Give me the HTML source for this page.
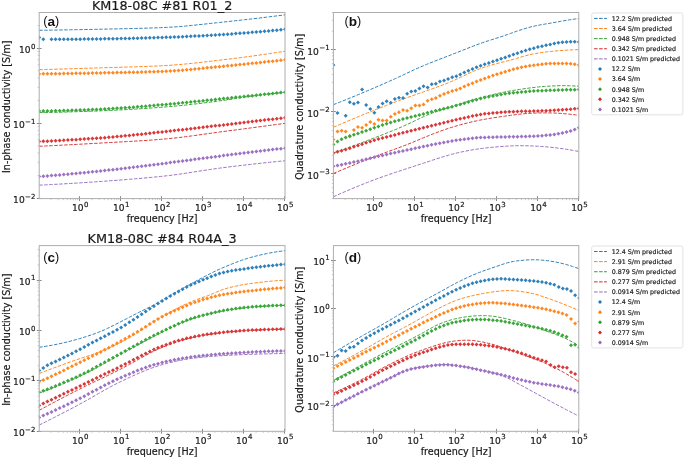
<!DOCTYPE html>
<html lang="en"><head><meta charset="utf-8"><title>Complex conductivity spectra</title>
<style>html,body{margin:0;padding:0;background:#fff;}body{width:685px;height:457px;overflow:hidden;}svg{display:block;}svg text{font-family:"DejaVu Sans","Liberation Sans",sans-serif;fill:#1a1a1a;stroke:#1a1a1a;stroke-width:0.2px;}svg text.tag{font-family:"Liberation Sans",Arial,sans-serif;fill:#111;stroke:none;}svg text.lg{stroke:#1a1a1a;stroke-width:0.18px;}svg{filter:blur(0.3px);}</style></head><body>
<svg width="685" height="457" viewBox="0 0 685 457">
<rect width="685" height="457" fill="#fff"/>
<clipPath id="clipa"><rect x="39.2" y="12.5" width="245.8" height="186.1"/></clipPath>
<g clip-path="url(#clipa)" opacity="0.92">
<path d="M39.2 30.29 L42.31 30.25 L45.42 30.21 L48.53 30.17 L51.65 30.12 L54.76 30.07 L57.87 30.02 L60.98 29.97 L64.09 29.92 L67.2 29.87 L70.31 29.81 L73.43 29.76 L76.54 29.7 L79.65 29.64 L82.76 29.58 L85.87 29.52 L88.98 29.46 L92.09 29.4 L95.21 29.33 L98.32 29.27 L101.43 29.2 L104.54 29.14 L107.65 29.07 L110.76 29.01 L113.87 28.94 L116.98 28.88 L120.1 28.81 L123.21 28.74 L126.32 28.68 L129.43 28.6 L132.54 28.53 L135.65 28.45 L138.76 28.37 L141.88 28.29 L144.99 28.2 L148.1 28.1 L151.21 28 L154.32 27.9 L157.43 27.79 L160.54 27.67 L163.66 27.54 L166.77 27.39 L169.88 27.23 L172.99 27.04 L176.1 26.82 L179.21 26.59 L182.32 26.33 L185.44 26.06 L188.55 25.76 L191.66 25.46 L194.77 25.14 L197.88 24.81 L200.99 24.48 L204.1 24.14 L207.22 23.8 L210.33 23.45 L213.44 23.11 L216.55 22.77 L219.66 22.44 L222.77 22.11 L225.88 21.78 L228.99 21.45 L232.11 21.11 L235.22 20.78 L238.33 20.43 L241.44 20.09 L244.55 19.74 L247.66 19.39 L250.77 19.03 L253.89 18.67 L257 18.31 L260.11 17.94 L263.22 17.56 L266.33 17.19 L269.44 16.81 L272.55 16.43 L275.67 16.04 L278.78 15.65 L281.89 15.26 L285 14.86" fill="none" stroke="#1f77b4" stroke-width="1.0" stroke-dasharray="3.5 1.5"/>
<path d="M39.2 69.69 L42.31 69.6 L45.42 69.51 L48.53 69.42 L51.65 69.33 L54.76 69.24 L57.87 69.15 L60.98 69.06 L64.09 68.97 L67.2 68.87 L70.31 68.78 L73.43 68.69 L76.54 68.59 L79.65 68.49 L82.76 68.4 L85.87 68.3 L88.98 68.2 L92.09 68.1 L95.21 68.01 L98.32 67.91 L101.43 67.81 L104.54 67.71 L107.65 67.61 L110.76 67.52 L113.87 67.43 L116.98 67.34 L120.1 67.25 L123.21 67.15 L126.32 67.06 L129.43 66.97 L132.54 66.88 L135.65 66.78 L138.76 66.68 L141.88 66.57 L144.99 66.46 L148.1 66.34 L151.21 66.22 L154.32 66.09 L157.43 65.95 L160.54 65.81 L163.66 65.65 L166.77 65.48 L169.88 65.28 L172.99 65.07 L176.1 64.84 L179.21 64.58 L182.32 64.31 L185.44 64.01 L188.55 63.71 L191.66 63.39 L194.77 63.05 L197.88 62.71 L200.99 62.36 L204.1 62 L207.22 61.64 L210.33 61.27 L213.44 60.9 L216.55 60.54 L219.66 60.17 L222.77 59.8 L225.88 59.43 L228.99 59.06 L232.11 58.68 L235.22 58.29 L238.33 57.9 L241.44 57.5 L244.55 57.1 L247.66 56.68 L250.77 56.26 L253.89 55.84 L257 55.41 L260.11 54.97 L263.22 54.52 L266.33 54.07 L269.44 53.61 L272.55 53.15 L275.67 52.68 L278.78 52.21 L281.89 51.73 L285 51.25" fill="none" stroke="#ff7f0e" stroke-width="1.0" stroke-dasharray="3.5 1.5"/>
<path d="M39.2 112.59 L42.31 112.54 L45.42 112.49 L48.53 112.44 L51.65 112.37 L54.76 112.31 L57.87 112.23 L60.98 112.15 L64.09 112.07 L67.2 111.99 L70.31 111.89 L73.43 111.8 L76.54 111.7 L79.65 111.6 L82.76 111.49 L85.87 111.38 L88.98 111.27 L92.09 111.16 L95.21 111.04 L98.32 110.92 L101.43 110.8 L104.54 110.67 L107.65 110.54 L110.76 110.4 L113.87 110.26 L116.98 110.11 L120.1 109.95 L123.21 109.79 L126.32 109.61 L129.43 109.44 L132.54 109.25 L135.65 109.06 L138.76 108.87 L141.88 108.67 L144.99 108.46 L148.1 108.25 L151.21 108.03 L154.32 107.8 L157.43 107.57 L160.54 107.34 L163.66 107.09 L166.77 106.84 L169.88 106.58 L172.99 106.31 L176.1 106.02 L179.21 105.72 L182.32 105.41 L185.44 105.08 L188.55 104.74 L191.66 104.4 L194.77 104.04 L197.88 103.68 L200.99 103.3 L204.1 102.92 L207.22 102.53 L210.33 102.14 L213.44 101.73 L216.55 101.32 L219.66 100.91 L222.77 100.47 L225.88 100.02 L228.99 99.54 L232.11 99.04 L235.22 98.54 L238.33 98.04 L241.44 97.56 L244.55 97.1 L247.66 96.66 L250.77 96.24 L253.89 95.84 L257 95.44 L260.11 95.05 L263.22 94.68 L266.33 94.31 L269.44 93.96 L272.55 93.62 L275.67 93.29 L278.78 92.97 L281.89 92.67 L285 92.38" fill="none" stroke="#2ca02c" stroke-width="1.0" stroke-dasharray="3.5 1.5"/>
<path d="M39.2 146.28 L42.31 146.14 L45.42 145.98 L48.53 145.83 L51.65 145.68 L54.76 145.52 L57.87 145.37 L60.98 145.21 L64.09 145.05 L67.2 144.89 L70.31 144.72 L73.43 144.56 L76.54 144.39 L79.65 144.22 L82.76 144.05 L85.87 143.88 L88.98 143.71 L92.09 143.54 L95.21 143.36 L98.32 143.19 L101.43 143.01 L104.54 142.83 L107.65 142.66 L110.76 142.49 L113.87 142.31 L116.98 142.14 L120.1 141.97 L123.21 141.79 L126.32 141.62 L129.43 141.44 L132.54 141.26 L135.65 141.07 L138.76 140.88 L141.88 140.69 L144.99 140.48 L148.1 140.27 L151.21 140.06 L154.32 139.83 L157.43 139.6 L160.54 139.35 L163.66 139.09 L166.77 138.82 L169.88 138.52 L172.99 138.21 L176.1 137.87 L179.21 137.51 L182.32 137.14 L185.44 136.74 L188.55 136.34 L191.66 135.92 L194.77 135.5 L197.88 135.06 L200.99 134.63 L204.1 134.19 L207.22 133.75 L210.33 133.31 L213.44 132.88 L216.55 132.45 L219.66 132.03 L222.77 131.61 L225.88 131.2 L228.99 130.79 L232.11 130.38 L235.22 129.98 L238.33 129.57 L241.44 129.16 L244.55 128.75 L247.66 128.34 L250.77 127.93 L253.89 127.52 L257 127.1 L260.11 126.69 L263.22 126.28 L266.33 125.86 L269.44 125.45 L272.55 125.03 L275.67 124.61 L278.78 124.2 L281.89 123.78 L285 123.36" fill="none" stroke="#d62728" stroke-width="1.0" stroke-dasharray="3.5 1.5"/>
<path d="M39.2 185.18 L42.31 185.03 L45.42 184.87 L48.53 184.71 L51.65 184.54 L54.76 184.37 L57.87 184.2 L60.98 184.02 L64.09 183.84 L67.2 183.66 L70.31 183.47 L73.43 183.28 L76.54 183.08 L79.65 182.88 L82.76 182.68 L85.87 182.48 L88.98 182.27 L92.09 182.06 L95.21 181.84 L98.32 181.63 L101.43 181.41 L104.54 181.19 L107.65 180.96 L110.76 180.74 L113.87 180.51 L116.98 180.27 L120.1 180.04 L123.21 179.8 L126.32 179.55 L129.43 179.3 L132.54 179.05 L135.65 178.78 L138.76 178.52 L141.88 178.25 L144.99 177.97 L148.1 177.68 L151.21 177.39 L154.32 177.08 L157.43 176.77 L160.54 176.46 L163.66 176.12 L166.77 175.78 L169.88 175.41 L172.99 175.02 L176.1 174.61 L179.21 174.18 L182.32 173.74 L185.44 173.28 L188.55 172.81 L191.66 172.33 L194.77 171.84 L197.88 171.36 L200.99 170.87 L204.1 170.39 L207.22 169.91 L210.33 169.45 L213.44 168.99 L216.55 168.55 L219.66 168.13 L222.77 167.72 L225.88 167.32 L228.99 166.93 L232.11 166.55 L235.22 166.18 L238.33 165.8 L241.44 165.43 L244.55 165.07 L247.66 164.71 L250.77 164.35 L253.89 164 L257 163.66 L260.11 163.32 L263.22 162.98 L266.33 162.65 L269.44 162.32 L272.55 162 L275.67 161.69 L278.78 161.38 L281.89 161.08 L285 160.77" fill="none" stroke="#9467bd" stroke-width="1.0" stroke-dasharray="3.5 1.5"/>
<path fill="#1f77b4" d="M51.49 37.3l2 2l-2 2l-2 -2zM55.59 37.29l2 2l-2 2l-2 -2zM59.68 37.27l2 2l-2 2l-2 -2zM63.78 37.25l2 2l-2 2l-2 -2zM67.88 37.23l2 2l-2 2l-2 -2zM71.97 37.2l2 2l-2 2l-2 -2zM76.07 37.17l2 2l-2 2l-2 -2zM80.17 37.13l2 2l-2 2l-2 -2zM84.26 37.09l2 2l-2 2l-2 -2zM88.36 37.05l2 2l-2 2l-2 -2zM92.46 37l2 2l-2 2l-2 -2zM96.55 36.96l2 2l-2 2l-2 -2zM100.65 36.91l2 2l-2 2l-2 -2zM104.75 36.86l2 2l-2 2l-2 -2zM108.84 36.8l2 2l-2 2l-2 -2zM112.94 36.73l2 2l-2 2l-2 -2zM117.04 36.66l2 2l-2 2l-2 -2zM121.13 36.58l2 2l-2 2l-2 -2zM125.23 36.5l2 2l-2 2l-2 -2zM129.33 36.4l2 2l-2 2l-2 -2zM133.42 36.31l2 2l-2 2l-2 -2zM137.52 36.2l2 2l-2 2l-2 -2zM141.62 36.1l2 2l-2 2l-2 -2zM145.71 35.98l2 2l-2 2l-2 -2zM149.81 35.87l2 2l-2 2l-2 -2zM153.91 35.74l2 2l-2 2l-2 -2zM158 35.62l2 2l-2 2l-2 -2zM162.1 35.49l2 2l-2 2l-2 -2zM166.2 35.35l2 2l-2 2l-2 -2zM170.29 35.21l2 2l-2 2l-2 -2zM174.39 35.05l2 2l-2 2l-2 -2zM178.49 34.89l2 2l-2 2l-2 -2zM182.58 34.71l2 2l-2 2l-2 -2zM186.68 34.52l2 2l-2 2l-2 -2zM190.78 34.32l2 2l-2 2l-2 -2zM194.87 34.11l2 2l-2 2l-2 -2zM198.97 33.89l2 2l-2 2l-2 -2zM203.07 33.67l2 2l-2 2l-2 -2zM207.16 33.43l2 2l-2 2l-2 -2zM211.26 33.2l2 2l-2 2l-2 -2zM215.36 32.95l2 2l-2 2l-2 -2zM219.45 32.7l2 2l-2 2l-2 -2zM223.55 32.45l2 2l-2 2l-2 -2zM227.65 32.18l2 2l-2 2l-2 -2zM231.74 31.9l2 2l-2 2l-2 -2zM235.84 31.62l2 2l-2 2l-2 -2zM239.94 31.32l2 2l-2 2l-2 -2zM244.03 31.01l2 2l-2 2l-2 -2zM248.13 30.69l2 2l-2 2l-2 -2zM252.23 30.35l2 2l-2 2l-2 -2zM256.32 30.01l2 2l-2 2l-2 -2zM260.42 29.66l2 2l-2 2l-2 -2zM264.52 29.3l2 2l-2 2l-2 -2zM268.61 28.93l2 2l-2 2l-2 -2zM272.71 28.55l2 2l-2 2l-2 -2zM276.81 28.16l2 2l-2 2l-2 -2zM280.9 27.77l2 2l-2 2l-2 -2zM285 27.37l2 2l-2 2l-2 -2zM39.2 35.4l2 2l-2 2l-2 -2zM43.3 37.3l2 2l-2 2l-2 -2z"/>
<path fill="#ff7f0e" d="M39.2 71.9l2 2l-2 2l-2 -2zM43.3 71.85l2 2l-2 2l-2 -2zM47.39 71.8l2 2l-2 2l-2 -2zM51.49 71.74l2 2l-2 2l-2 -2zM55.59 71.69l2 2l-2 2l-2 -2zM59.68 71.63l2 2l-2 2l-2 -2zM63.78 71.56l2 2l-2 2l-2 -2zM67.88 71.5l2 2l-2 2l-2 -2zM71.97 71.43l2 2l-2 2l-2 -2zM76.07 71.37l2 2l-2 2l-2 -2zM80.17 71.3l2 2l-2 2l-2 -2zM84.26 71.22l2 2l-2 2l-2 -2zM88.36 71.15l2 2l-2 2l-2 -2zM92.46 71.07l2 2l-2 2l-2 -2zM96.55 71l2 2l-2 2l-2 -2zM100.65 70.92l2 2l-2 2l-2 -2zM104.75 70.84l2 2l-2 2l-2 -2zM108.84 70.76l2 2l-2 2l-2 -2zM112.94 70.68l2 2l-2 2l-2 -2zM117.04 70.6l2 2l-2 2l-2 -2zM121.13 70.52l2 2l-2 2l-2 -2zM125.23 70.43l2 2l-2 2l-2 -2zM129.33 70.34l2 2l-2 2l-2 -2zM133.42 70.25l2 2l-2 2l-2 -2zM137.52 70.15l2 2l-2 2l-2 -2zM141.62 70.05l2 2l-2 2l-2 -2zM145.71 69.94l2 2l-2 2l-2 -2zM149.81 69.82l2 2l-2 2l-2 -2zM153.91 69.69l2 2l-2 2l-2 -2zM158 69.55l2 2l-2 2l-2 -2zM162.1 69.4l2 2l-2 2l-2 -2zM166.2 69.22l2 2l-2 2l-2 -2zM170.29 69.02l2 2l-2 2l-2 -2zM174.39 68.78l2 2l-2 2l-2 -2zM178.49 68.5l2 2l-2 2l-2 -2zM182.58 68.19l2 2l-2 2l-2 -2zM186.68 67.85l2 2l-2 2l-2 -2zM190.78 67.48l2 2l-2 2l-2 -2zM194.87 67.09l2 2l-2 2l-2 -2zM198.97 66.69l2 2l-2 2l-2 -2zM203.07 66.28l2 2l-2 2l-2 -2zM207.16 65.87l2 2l-2 2l-2 -2zM211.26 65.45l2 2l-2 2l-2 -2zM215.36 65.04l2 2l-2 2l-2 -2zM219.45 64.63l2 2l-2 2l-2 -2zM223.55 64.23l2 2l-2 2l-2 -2zM227.65 63.83l2 2l-2 2l-2 -2zM231.74 63.43l2 2l-2 2l-2 -2zM235.84 63.03l2 2l-2 2l-2 -2zM239.94 62.62l2 2l-2 2l-2 -2zM244.03 62.21l2 2l-2 2l-2 -2zM248.13 61.79l2 2l-2 2l-2 -2zM252.23 61.36l2 2l-2 2l-2 -2zM256.32 60.93l2 2l-2 2l-2 -2zM260.42 60.49l2 2l-2 2l-2 -2zM264.52 60.05l2 2l-2 2l-2 -2zM268.61 59.6l2 2l-2 2l-2 -2zM272.71 59.15l2 2l-2 2l-2 -2zM276.81 58.69l2 2l-2 2l-2 -2zM280.9 58.23l2 2l-2 2l-2 -2zM285 57.76l2 2l-2 2l-2 -2z"/>
<path fill="#2ca02c" d="M39.2 109.09l2 2l-2 2l-2 -2zM43.3 109.04l2 2l-2 2l-2 -2zM47.39 108.98l2 2l-2 2l-2 -2zM51.49 108.91l2 2l-2 2l-2 -2zM55.59 108.82l2 2l-2 2l-2 -2zM59.68 108.72l2 2l-2 2l-2 -2zM63.78 108.61l2 2l-2 2l-2 -2zM67.88 108.49l2 2l-2 2l-2 -2zM71.97 108.36l2 2l-2 2l-2 -2zM76.07 108.22l2 2l-2 2l-2 -2zM80.17 108.07l2 2l-2 2l-2 -2zM84.26 107.91l2 2l-2 2l-2 -2zM88.36 107.75l2 2l-2 2l-2 -2zM92.46 107.58l2 2l-2 2l-2 -2zM96.55 107.41l2 2l-2 2l-2 -2zM100.65 107.23l2 2l-2 2l-2 -2zM104.75 107.04l2 2l-2 2l-2 -2zM108.84 106.83l2 2l-2 2l-2 -2zM112.94 106.6l2 2l-2 2l-2 -2zM117.04 106.35l2 2l-2 2l-2 -2zM121.13 106.08l2 2l-2 2l-2 -2zM125.23 105.79l2 2l-2 2l-2 -2zM129.33 105.49l2 2l-2 2l-2 -2zM133.42 105.17l2 2l-2 2l-2 -2zM137.52 104.84l2 2l-2 2l-2 -2zM141.62 104.5l2 2l-2 2l-2 -2zM145.71 104.16l2 2l-2 2l-2 -2zM149.81 103.81l2 2l-2 2l-2 -2zM153.91 103.46l2 2l-2 2l-2 -2zM158 103.1l2 2l-2 2l-2 -2zM162.1 102.75l2 2l-2 2l-2 -2zM166.2 102.39l2 2l-2 2l-2 -2zM170.29 102.03l2 2l-2 2l-2 -2zM174.39 101.65l2 2l-2 2l-2 -2zM178.49 101.26l2 2l-2 2l-2 -2zM182.58 100.86l2 2l-2 2l-2 -2zM186.68 100.46l2 2l-2 2l-2 -2zM190.78 100.04l2 2l-2 2l-2 -2zM194.87 99.62l2 2l-2 2l-2 -2zM198.97 99.19l2 2l-2 2l-2 -2zM203.07 98.76l2 2l-2 2l-2 -2zM207.16 98.33l2 2l-2 2l-2 -2zM211.26 97.9l2 2l-2 2l-2 -2zM215.36 97.47l2 2l-2 2l-2 -2zM219.45 97.05l2 2l-2 2l-2 -2zM223.55 96.62l2 2l-2 2l-2 -2zM227.65 96.2l2 2l-2 2l-2 -2zM231.74 95.78l2 2l-2 2l-2 -2zM235.84 95.35l2 2l-2 2l-2 -2zM239.94 94.93l2 2l-2 2l-2 -2zM244.03 94.5l2 2l-2 2l-2 -2zM248.13 94.08l2 2l-2 2l-2 -2zM252.23 93.65l2 2l-2 2l-2 -2zM256.32 93.22l2 2l-2 2l-2 -2zM260.42 92.78l2 2l-2 2l-2 -2zM264.52 92.35l2 2l-2 2l-2 -2zM268.61 91.92l2 2l-2 2l-2 -2zM272.71 91.48l2 2l-2 2l-2 -2zM276.81 91.04l2 2l-2 2l-2 -2zM280.9 90.61l2 2l-2 2l-2 -2zM285 90.17l2 2l-2 2l-2 -2z"/>
<path fill="#d62728" d="M39.2 139.48l2 2l-2 2l-2 -2zM43.3 139.32l2 2l-2 2l-2 -2zM47.39 139.15l2 2l-2 2l-2 -2zM51.49 138.97l2 2l-2 2l-2 -2zM55.59 138.77l2 2l-2 2l-2 -2zM59.68 138.56l2 2l-2 2l-2 -2zM63.78 138.34l2 2l-2 2l-2 -2zM67.88 138.11l2 2l-2 2l-2 -2zM71.97 137.87l2 2l-2 2l-2 -2zM76.07 137.63l2 2l-2 2l-2 -2zM80.17 137.37l2 2l-2 2l-2 -2zM84.26 137.1l2 2l-2 2l-2 -2zM88.36 136.83l2 2l-2 2l-2 -2zM92.46 136.55l2 2l-2 2l-2 -2zM96.55 136.26l2 2l-2 2l-2 -2zM100.65 135.96l2 2l-2 2l-2 -2zM104.75 135.65l2 2l-2 2l-2 -2zM108.84 135.32l2 2l-2 2l-2 -2zM112.94 134.97l2 2l-2 2l-2 -2zM117.04 134.61l2 2l-2 2l-2 -2zM121.13 134.23l2 2l-2 2l-2 -2zM125.23 133.83l2 2l-2 2l-2 -2zM129.33 133.42l2 2l-2 2l-2 -2zM133.42 133l2 2l-2 2l-2 -2zM137.52 132.57l2 2l-2 2l-2 -2zM141.62 132.13l2 2l-2 2l-2 -2zM145.71 131.69l2 2l-2 2l-2 -2zM149.81 131.24l2 2l-2 2l-2 -2zM153.91 130.8l2 2l-2 2l-2 -2zM158 130.35l2 2l-2 2l-2 -2zM162.1 129.91l2 2l-2 2l-2 -2zM166.2 129.47l2 2l-2 2l-2 -2zM170.29 129.03l2 2l-2 2l-2 -2zM174.39 128.58l2 2l-2 2l-2 -2zM178.49 128.12l2 2l-2 2l-2 -2zM182.58 127.66l2 2l-2 2l-2 -2zM186.68 127.2l2 2l-2 2l-2 -2zM190.78 126.73l2 2l-2 2l-2 -2zM194.87 126.25l2 2l-2 2l-2 -2zM198.97 125.78l2 2l-2 2l-2 -2zM203.07 125.3l2 2l-2 2l-2 -2zM207.16 124.82l2 2l-2 2l-2 -2zM211.26 124.35l2 2l-2 2l-2 -2zM215.36 123.87l2 2l-2 2l-2 -2zM219.45 123.39l2 2l-2 2l-2 -2zM223.55 122.91l2 2l-2 2l-2 -2zM227.65 122.44l2 2l-2 2l-2 -2zM231.74 121.96l2 2l-2 2l-2 -2zM235.84 121.48l2 2l-2 2l-2 -2zM239.94 121l2 2l-2 2l-2 -2zM244.03 120.52l2 2l-2 2l-2 -2zM248.13 120.04l2 2l-2 2l-2 -2zM252.23 119.56l2 2l-2 2l-2 -2zM256.32 119.08l2 2l-2 2l-2 -2zM260.42 118.59l2 2l-2 2l-2 -2zM264.52 118.11l2 2l-2 2l-2 -2zM268.61 117.62l2 2l-2 2l-2 -2zM272.71 117.13l2 2l-2 2l-2 -2zM276.81 116.64l2 2l-2 2l-2 -2zM280.9 116.15l2 2l-2 2l-2 -2zM285 115.66l2 2l-2 2l-2 -2z"/>
<path fill="#9467bd" d="M39.2 174.57l2 2l-2 2l-2 -2zM43.3 174.25l2 2l-2 2l-2 -2zM47.39 173.93l2 2l-2 2l-2 -2zM51.49 173.59l2 2l-2 2l-2 -2zM55.59 173.25l2 2l-2 2l-2 -2zM59.68 172.9l2 2l-2 2l-2 -2zM63.78 172.54l2 2l-2 2l-2 -2zM67.88 172.17l2 2l-2 2l-2 -2zM71.97 171.8l2 2l-2 2l-2 -2zM76.07 171.42l2 2l-2 2l-2 -2zM80.17 171.03l2 2l-2 2l-2 -2zM84.26 170.63l2 2l-2 2l-2 -2zM88.36 170.23l2 2l-2 2l-2 -2zM92.46 169.83l2 2l-2 2l-2 -2zM96.55 169.41l2 2l-2 2l-2 -2zM100.65 168.99l2 2l-2 2l-2 -2zM104.75 168.56l2 2l-2 2l-2 -2zM108.84 168.12l2 2l-2 2l-2 -2zM112.94 167.67l2 2l-2 2l-2 -2zM117.04 167.2l2 2l-2 2l-2 -2zM121.13 166.73l2 2l-2 2l-2 -2zM125.23 166.25l2 2l-2 2l-2 -2zM129.33 165.75l2 2l-2 2l-2 -2zM133.42 165.26l2 2l-2 2l-2 -2zM137.52 164.75l2 2l-2 2l-2 -2zM141.62 164.24l2 2l-2 2l-2 -2zM145.71 163.73l2 2l-2 2l-2 -2zM149.81 163.21l2 2l-2 2l-2 -2zM153.91 162.7l2 2l-2 2l-2 -2zM158 162.18l2 2l-2 2l-2 -2zM162.1 161.66l2 2l-2 2l-2 -2zM166.2 161.15l2 2l-2 2l-2 -2zM170.29 160.62l2 2l-2 2l-2 -2zM174.39 160.09l2 2l-2 2l-2 -2zM178.49 159.56l2 2l-2 2l-2 -2zM182.58 159.02l2 2l-2 2l-2 -2zM186.68 158.47l2 2l-2 2l-2 -2zM190.78 157.92l2 2l-2 2l-2 -2zM194.87 157.37l2 2l-2 2l-2 -2zM198.97 156.83l2 2l-2 2l-2 -2zM203.07 156.28l2 2l-2 2l-2 -2zM207.16 155.73l2 2l-2 2l-2 -2zM211.26 155.19l2 2l-2 2l-2 -2zM215.36 154.66l2 2l-2 2l-2 -2zM219.45 154.13l2 2l-2 2l-2 -2zM223.55 153.61l2 2l-2 2l-2 -2zM227.65 153.09l2 2l-2 2l-2 -2zM231.74 152.58l2 2l-2 2l-2 -2zM235.84 152.07l2 2l-2 2l-2 -2zM239.94 151.56l2 2l-2 2l-2 -2zM244.03 151.06l2 2l-2 2l-2 -2zM248.13 150.56l2 2l-2 2l-2 -2zM252.23 150.06l2 2l-2 2l-2 -2zM256.32 149.56l2 2l-2 2l-2 -2zM260.42 149.07l2 2l-2 2l-2 -2zM264.52 148.58l2 2l-2 2l-2 -2zM268.61 148.09l2 2l-2 2l-2 -2zM272.71 147.6l2 2l-2 2l-2 -2zM276.81 147.12l2 2l-2 2l-2 -2zM280.9 146.64l2 2l-2 2l-2 -2zM285 146.17l2 2l-2 2l-2 -2z"/>
</g>
<path d="M50.93 198.4V200.2M58.15 198.4V200.2M63.28 198.4V200.2M67.25 198.4V200.2M70.5 198.4V200.2M73.25 198.4V200.2M75.62 198.4V200.2M77.72 198.4V200.2M91.95 198.4V200.2M99.17 198.4V200.2M104.3 198.4V200.2M108.27 198.4V200.2M111.52 198.4V200.2M114.27 198.4V200.2M116.64 198.4V200.2M118.74 198.4V200.2M132.97 198.4V200.2M140.19 198.4V200.2M145.32 198.4V200.2M149.29 198.4V200.2M152.54 198.4V200.2M155.29 198.4V200.2M157.66 198.4V200.2M159.76 198.4V200.2M173.99 198.4V200.2M181.21 198.4V200.2M186.34 198.4V200.2M190.31 198.4V200.2M193.56 198.4V200.2M196.31 198.4V200.2M198.68 198.4V200.2M200.78 198.4V200.2M215.01 198.4V200.2M222.23 198.4V200.2M227.36 198.4V200.2M231.33 198.4V200.2M234.58 198.4V200.2M237.33 198.4V200.2M239.7 198.4V200.2M241.8 198.4V200.2M256.03 198.4V200.2M263.25 198.4V200.2M268.38 198.4V200.2M272.35 198.4V200.2M275.6 198.4V200.2M278.35 198.4V200.2M280.72 198.4V200.2M282.82 198.4V200.2M37.6 175.52H39.4M37.6 162.32H39.4M37.6 152.95H39.4M37.6 145.68H39.4M37.6 139.74H39.4M37.6 134.72H39.4M37.6 130.37H39.4M37.6 126.53H39.4M37.6 100.52H39.4M37.6 87.32H39.4M37.6 77.95H39.4M37.6 70.68H39.4M37.6 64.74H39.4M37.6 59.72H39.4M37.6 55.37H39.4M37.6 51.53H39.4M37.6 25.52H39.4" stroke="#9a9a9a" stroke-width="0.5" fill="none"/>
<path d="M79.5 196.2V201M120.5 196.2V201M161.5 196.2V201M202.5 196.2V201M243.5 196.2V201M284.5 196.2V201M36.8 198.5H41.6M36.8 123.5H41.6M36.8 48.5H41.6" stroke="#6a6a6a" stroke-width="0.8" fill="none"/>
<rect x="39.2" y="12.5" width="245.8" height="186.1" fill="none" stroke="#adadad" stroke-width="1"/>
<text x="80.2" y="210.8" text-anchor="middle" font-size="9.1">10<tspan font-size="7" dy="-4.2" dx="0.4">0</tspan></text>
<text x="121.22" y="210.8" text-anchor="middle" font-size="9.1">10<tspan font-size="7" dy="-4.2" dx="0.4">1</tspan></text>
<text x="162.24" y="210.8" text-anchor="middle" font-size="9.1">10<tspan font-size="7" dy="-4.2" dx="0.4">2</tspan></text>
<text x="203.26" y="210.8" text-anchor="middle" font-size="9.1">10<tspan font-size="7" dy="-4.2" dx="0.4">3</tspan></text>
<text x="244.28" y="210.8" text-anchor="middle" font-size="9.1">10<tspan font-size="7" dy="-4.2" dx="0.4">4</tspan></text>
<text x="285.3" y="210.8" text-anchor="middle" font-size="9.1">10<tspan font-size="7" dy="-4.2" dx="0.4">5</tspan></text>
<text x="35.4" y="202.7" text-anchor="end" font-size="9.1">10<tspan font-size="7" dy="-4.2" dx="0.4">−2</tspan></text>
<text x="35.4" y="127.7" text-anchor="end" font-size="9.1">10<tspan font-size="7" dy="-4.2" dx="0.4">−1</tspan></text>
<text x="35.4" y="52.7" text-anchor="end" font-size="9.1">10<tspan font-size="7" dy="-4.2" dx="0.4">0</tspan></text>
<text x="162.1" y="222" text-anchor="middle" font-size="9.6">frequency [Hz]</text>
<text transform="translate(10.2 106.75) rotate(-90)" text-anchor="middle" font-size="9.6">In-phase conductivity [S/m]</text>
<text x="162.1" y="10" text-anchor="middle" font-size="12.8">KM18-08C #81 R01_2</text>
<text x="43.3" y="25.7" class="tag" font-size="13.6"><tspan font-size="12.6" dy="-0.4">(</tspan><tspan font-weight="bold" dy="0.4">a</tspan><tspan font-size="12.6" dy="-0.4">)</tspan></text>
<clipPath id="clipb"><rect x="333.4" y="12.5" width="245.4" height="186.1"/></clipPath>
<g clip-path="url(#clipb)" opacity="0.92">
<path d="M333.4 104.65 L336.51 103.44 L339.61 102.22 L342.72 100.98 L345.83 99.74 L348.93 98.48 L352.04 97.21 L355.14 95.94 L358.25 94.65 L361.36 93.35 L364.46 92.04 L367.57 90.73 L370.68 89.4 L373.78 88.07 L376.89 86.72 L379.99 85.38 L383.1 84.02 L386.21 82.65 L389.31 81.28 L392.42 79.9 L395.53 78.5 L398.63 77.08 L401.74 75.63 L404.85 74.16 L407.95 72.69 L411.06 71.22 L414.16 69.77 L417.27 68.36 L420.38 67 L423.48 65.67 L426.59 64.39 L429.7 63.13 L432.8 61.9 L435.91 60.68 L439.02 59.48 L442.12 58.28 L445.23 57.09 L448.33 55.89 L451.44 54.69 L454.55 53.48 L457.65 52.26 L460.76 51.02 L463.87 49.79 L466.97 48.56 L470.08 47.34 L473.18 46.14 L476.29 44.97 L479.4 43.82 L482.5 42.72 L485.61 41.66 L488.72 40.63 L491.82 39.64 L494.93 38.66 L498.04 37.68 L501.14 36.67 L504.25 35.63 L507.35 34.56 L510.46 33.46 L513.57 32.36 L516.67 31.26 L519.78 30.2 L522.89 29.19 L525.99 28.24 L529.1 27.37 L532.21 26.58 L535.31 25.89 L538.42 25.26 L541.52 24.69 L544.63 24.15 L547.74 23.63 L550.84 23.1 L553.95 22.55 L557.06 21.99 L560.16 21.42 L563.27 20.87 L566.37 20.33 L569.48 19.83 L572.59 19.36 L575.69 18.92 L578.8 18.49" fill="none" stroke="#1f77b4" stroke-width="1.0" stroke-dasharray="3.5 1.5"/>
<path d="M333.4 127.26 L336.51 125.92 L339.61 124.59 L342.72 123.26 L345.83 121.94 L348.93 120.62 L352.04 119.31 L355.14 118.02 L358.25 116.72 L361.36 115.44 L364.46 114.16 L367.57 112.89 L370.68 111.63 L373.78 110.38 L376.89 109.14 L379.99 107.9 L383.1 106.67 L386.21 105.45 L389.31 104.24 L392.42 103.04 L395.53 101.86 L398.63 100.7 L401.74 99.56 L404.85 98.43 L407.95 97.32 L411.06 96.22 L414.16 95.13 L417.27 94.05 L420.38 92.97 L423.48 91.88 L426.59 90.79 L429.7 89.7 L432.8 88.59 L435.91 87.46 L439.02 86.32 L442.12 85.15 L445.23 83.95 L448.33 82.72 L451.44 81.44 L454.55 80.1 L457.65 78.69 L460.76 77.24 L463.87 75.76 L466.97 74.27 L470.08 72.82 L473.18 71.43 L476.29 70.12 L479.4 68.91 L482.5 67.8 L485.61 66.77 L488.72 65.82 L491.82 64.92 L494.93 64.07 L498.04 63.25 L501.14 62.47 L504.25 61.7 L507.35 60.93 L510.46 60.12 L513.57 59.27 L516.67 58.36 L519.78 57.43 L522.89 56.52 L525.99 55.65 L529.1 54.86 L532.21 54.17 L535.31 53.57 L538.42 53.04 L541.52 52.57 L544.63 52.15 L547.74 51.77 L550.84 51.43 L553.95 51.13 L557.06 50.86 L560.16 50.6 L563.27 50.37 L566.37 50.16 L569.48 49.98 L572.59 49.82 L575.69 49.69 L578.8 49.58" fill="none" stroke="#ff7f0e" stroke-width="1.0" stroke-dasharray="3.5 1.5"/>
<path d="M333.4 153.06 L336.51 151.96 L339.61 150.85 L342.72 149.73 L345.83 148.61 L348.93 147.47 L352.04 146.33 L355.14 145.18 L358.25 144.02 L361.36 142.85 L364.46 141.68 L367.57 140.49 L370.68 139.31 L373.78 138.11 L376.89 136.91 L379.99 135.7 L383.1 134.49 L386.21 133.26 L389.31 132.02 L392.42 130.76 L395.53 129.49 L398.63 128.19 L401.74 126.86 L404.85 125.5 L407.95 124.09 L411.06 122.64 L414.16 121.15 L417.27 119.65 L420.38 118.17 L423.48 116.73 L426.59 115.35 L429.7 114.06 L432.8 112.85 L435.91 111.72 L439.02 110.66 L442.12 109.63 L445.23 108.64 L448.33 107.66 L451.44 106.68 L454.55 105.69 L457.65 104.69 L460.76 103.69 L463.87 102.69 L466.97 101.7 L470.08 100.73 L473.18 99.78 L476.29 98.86 L479.4 97.98 L482.5 97.14 L485.61 96.34 L488.72 95.57 L491.82 94.82 L494.93 94.1 L498.04 93.41 L501.14 92.74 L504.25 92.11 L507.35 91.5 L510.46 90.93 L513.57 90.4 L516.67 89.89 L519.78 89.41 L522.89 88.94 L525.99 88.49 L529.1 88.06 L532.21 87.66 L535.31 87.29 L538.42 86.96 L541.52 86.66 L544.63 86.42 L547.74 86.21 L550.84 86.03 L553.95 85.89 L557.06 85.77 L560.16 85.7 L563.27 85.67 L566.37 85.69 L569.48 85.76 L572.59 85.88 L575.69 86.05 L578.8 86.24" fill="none" stroke="#2ca02c" stroke-width="1.0" stroke-dasharray="3.5 1.5"/>
<path d="M333.4 173.46 L336.51 172.15 L339.61 170.84 L342.72 169.54 L345.83 168.25 L348.93 166.96 L352.04 165.68 L355.14 164.41 L358.25 163.15 L361.36 161.89 L364.46 160.65 L367.57 159.41 L370.68 158.19 L373.78 156.98 L376.89 155.78 L379.99 154.61 L383.1 153.45 L386.21 152.31 L389.31 151.17 L392.42 150.04 L395.53 148.91 L398.63 147.77 L401.74 146.61 L404.85 145.44 L407.95 144.23 L411.06 142.99 L414.16 141.71 L417.27 140.41 L420.38 139.09 L423.48 137.79 L426.59 136.51 L429.7 135.26 L432.8 134.03 L435.91 132.82 L439.02 131.65 L442.12 130.52 L445.23 129.44 L448.33 128.4 L451.44 127.41 L454.55 126.46 L457.65 125.56 L460.76 124.69 L463.87 123.86 L466.97 123.06 L470.08 122.3 L473.18 121.58 L476.29 120.9 L479.4 120.25 L482.5 119.65 L485.61 119.09 L488.72 118.56 L491.82 118.05 L494.93 117.57 L498.04 117.1 L501.14 116.65 L504.25 116.21 L507.35 115.78 L510.46 115.36 L513.57 114.95 L516.67 114.55 L519.78 114.19 L522.89 113.86 L525.99 113.59 L529.1 113.36 L532.21 113.19 L535.31 113.06 L538.42 112.97 L541.52 112.93 L544.63 112.91 L547.74 112.92 L550.84 112.95 L553.95 113.03 L557.06 113.16 L560.16 113.36 L563.27 113.61 L566.37 113.89 L569.48 114.2 L572.59 114.54 L575.69 114.9 L578.8 115.28" fill="none" stroke="#d62728" stroke-width="1.0" stroke-dasharray="3.5 1.5"/>
<path d="M333.4 196.76 L336.51 195.37 L339.61 193.99 L342.72 192.63 L345.83 191.28 L348.93 189.95 L352.04 188.63 L355.14 187.34 L358.25 186.06 L361.36 184.8 L364.46 183.57 L367.57 182.35 L370.68 181.16 L373.78 179.99 L376.89 178.84 L379.99 177.71 L383.1 176.61 L386.21 175.52 L389.31 174.46 L392.42 173.4 L395.53 172.36 L398.63 171.33 L401.74 170.3 L404.85 169.28 L407.95 168.26 L411.06 167.25 L414.16 166.22 L417.27 165.2 L420.38 164.17 L423.48 163.15 L426.59 162.12 L429.7 161.11 L432.8 160.09 L435.91 159.08 L439.02 158.07 L442.12 157.08 L445.23 156.12 L448.33 155.21 L451.44 154.36 L454.55 153.57 L457.65 152.83 L460.76 152.14 L463.87 151.48 L466.97 150.86 L470.08 150.28 L473.18 149.74 L476.29 149.24 L479.4 148.79 L482.5 148.37 L485.61 147.99 L488.72 147.64 L491.82 147.32 L494.93 147.03 L498.04 146.77 L501.14 146.54 L504.25 146.32 L507.35 146.12 L510.46 145.94 L513.57 145.81 L516.67 145.71 L519.78 145.67 L522.89 145.69 L525.99 145.74 L529.1 145.84 L532.21 145.96 L535.31 146.11 L538.42 146.28 L541.52 146.48 L544.63 146.71 L547.74 146.98 L550.84 147.28 L553.95 147.62 L557.06 147.98 L560.16 148.38 L563.27 148.81 L566.37 149.27 L569.48 149.78 L572.59 150.31 L575.69 150.88 L578.8 151.47" fill="none" stroke="#9467bd" stroke-width="1.0" stroke-dasharray="3.5 1.5"/>
<path fill="#1f77b4" d="M460.19 72.4l2 2l-2 2l-2 -2zM464.28 70.53l2 2l-2 2l-2 -2zM468.37 68.72l2 2l-2 2l-2 -2zM472.46 67l2 2l-2 2l-2 -2zM476.55 65.35l2 2l-2 2l-2 -2zM480.64 63.78l2 2l-2 2l-2 -2zM484.73 62.31l2 2l-2 2l-2 -2zM488.82 60.9l2 2l-2 2l-2 -2zM492.91 59.54l2 2l-2 2l-2 -2zM497 58.18l2 2l-2 2l-2 -2zM501.09 56.79l2 2l-2 2l-2 -2zM505.18 55.38l2 2l-2 2l-2 -2zM509.27 53.96l2 2l-2 2l-2 -2zM513.36 52.55l2 2l-2 2l-2 -2zM517.45 51.15l2 2l-2 2l-2 -2zM521.54 49.78l2 2l-2 2l-2 -2zM525.63 48.48l2 2l-2 2l-2 -2zM529.72 47.26l2 2l-2 2l-2 -2zM533.81 46.14l2 2l-2 2l-2 -2zM537.9 45.11l2 2l-2 2l-2 -2zM541.99 44.17l2 2l-2 2l-2 -2zM546.08 43.28l2 2l-2 2l-2 -2zM550.17 42.43l2 2l-2 2l-2 -2zM554.26 41.61l2 2l-2 2l-2 -2zM558.35 40.84l2 2l-2 2l-2 -2zM562.44 40.24l2 2l-2 2l-2 -2zM566.53 39.9l2 2l-2 2l-2 -2zM570.62 39.8l2 2l-2 2l-2 -2zM574.71 39.85l2 2l-2 2l-2 -2zM578.8 39.99l2 2l-2 2l-2 -2zM333.4 63.1l2 2l-2 2l-2 -2zM337.5 110.9l2 2l-2 2l-2 -2zM345.69 113.8l2 2l-2 2l-2 -2zM349.79 100.2l2 2l-2 2l-2 -2zM353.88 101.8l2 2l-2 2l-2 -2zM357.98 100.4l2 2l-2 2l-2 -2zM362.08 87.5l2 2l-2 2l-2 -2zM366.18 103.1l2 2l-2 2l-2 -2zM370.27 106.9l2 2l-2 2l-2 -2zM374.37 110.7l2 2l-2 2l-2 -2zM378.47 105l2 2l-2 2l-2 -2zM382.56 101.4l2 2l-2 2l-2 -2zM386.66 99.3l2 2l-2 2l-2 -2zM390.76 100.8l2 2l-2 2l-2 -2zM394.85 97l2 2l-2 2l-2 -2zM398.95 95.7l2 2l-2 2l-2 -2zM403.05 96.1l2 2l-2 2l-2 -2zM407.15 91.7l2 2l-2 2l-2 -2zM411.24 89.4l2 2l-2 2l-2 -2zM415.34 89l2 2l-2 2l-2 -2zM419.44 86.5l2 2l-2 2l-2 -2zM423.53 84.3l2 2l-2 2l-2 -2zM427.63 85.6l2 2l-2 2l-2 -2zM431.73 82.2l2 2l-2 2l-2 -2zM435.82 81.8l2 2l-2 2l-2 -2zM439.92 79.5l2 2l-2 2l-2 -2zM444.02 78.4l2 2l-2 2l-2 -2zM448.12 77l2 2l-2 2l-2 -2zM452.21 75.3l2 2l-2 2l-2 -2zM456.31 74.2l2 2l-2 2l-2 -2z"/>
<path fill="#ff7f0e" d="M460.19 86.38l2 2l-2 2l-2 -2zM464.28 84.58l2 2l-2 2l-2 -2zM468.37 82.84l2 2l-2 2l-2 -2zM472.46 81.15l2 2l-2 2l-2 -2zM476.55 79.52l2 2l-2 2l-2 -2zM480.64 77.95l2 2l-2 2l-2 -2zM484.73 76.43l2 2l-2 2l-2 -2zM488.82 74.97l2 2l-2 2l-2 -2zM492.91 73.56l2 2l-2 2l-2 -2zM497 72.21l2 2l-2 2l-2 -2zM501.09 70.9l2 2l-2 2l-2 -2zM505.18 69.66l2 2l-2 2l-2 -2zM509.27 68.46l2 2l-2 2l-2 -2zM513.36 67.31l2 2l-2 2l-2 -2zM517.45 66.25l2 2l-2 2l-2 -2zM521.54 65.3l2 2l-2 2l-2 -2zM525.63 64.49l2 2l-2 2l-2 -2zM529.72 63.81l2 2l-2 2l-2 -2zM533.81 63.22l2 2l-2 2l-2 -2zM537.9 62.71l2 2l-2 2l-2 -2zM541.99 62.25l2 2l-2 2l-2 -2zM546.08 61.87l2 2l-2 2l-2 -2zM550.17 61.61l2 2l-2 2l-2 -2zM554.26 61.47l2 2l-2 2l-2 -2zM558.35 61.42l2 2l-2 2l-2 -2zM562.44 61.45l2 2l-2 2l-2 -2zM566.53 61.57l2 2l-2 2l-2 -2zM570.62 61.87l2 2l-2 2l-2 -2zM574.71 62.34l2 2l-2 2l-2 -2zM578.8 62.94l2 2l-2 2l-2 -2zM333.4 137.6l2 2l-2 2l-2 -2zM337.5 129.6l2 2l-2 2l-2 -2zM341.59 128.7l2 2l-2 2l-2 -2zM345.69 129.6l2 2l-2 2l-2 -2zM349.79 134.4l2 2l-2 2l-2 -2zM353.88 128.1l2 2l-2 2l-2 -2zM357.98 124.9l2 2l-2 2l-2 -2zM362.08 125.8l2 2l-2 2l-2 -2zM366.18 123l2 2l-2 2l-2 -2zM370.27 120.1l2 2l-2 2l-2 -2zM374.37 122l2 2l-2 2l-2 -2zM378.47 117.8l2 2l-2 2l-2 -2zM382.56 118.6l2 2l-2 2l-2 -2zM386.66 118.4l2 2l-2 2l-2 -2zM390.76 114.8l2 2l-2 2l-2 -2zM394.85 112.1l2 2l-2 2l-2 -2zM398.95 110.2l2 2l-2 2l-2 -2zM403.05 108.1l2 2l-2 2l-2 -2zM407.15 108.7l2 2l-2 2l-2 -2zM411.24 106.2l2 2l-2 2l-2 -2zM415.34 103.6l2 2l-2 2l-2 -2zM419.44 103.4l2 2l-2 2l-2 -2zM423.53 102.4l2 2l-2 2l-2 -2zM427.63 98.8l2 2l-2 2l-2 -2zM431.73 97.3l2 2l-2 2l-2 -2zM435.82 95.9l2 2l-2 2l-2 -2zM439.92 93.8l2 2l-2 2l-2 -2zM444.02 91.9l2 2l-2 2l-2 -2zM448.12 90.6l2 2l-2 2l-2 -2zM452.21 89.1l2 2l-2 2l-2 -2zM456.31 88.1l2 2l-2 2l-2 -2z"/>
<path fill="#2ca02c" d="M333.4 142.38l2 2l-2 2l-2 -2zM337.49 139.46l2 2l-2 2l-2 -2zM341.58 137.22l2 2l-2 2l-2 -2zM345.67 135.51l2 2l-2 2l-2 -2zM349.76 134.11l2 2l-2 2l-2 -2zM353.85 132.81l2 2l-2 2l-2 -2zM357.94 131.48l2 2l-2 2l-2 -2zM362.03 130.09l2 2l-2 2l-2 -2zM366.12 128.66l2 2l-2 2l-2 -2zM370.21 127.23l2 2l-2 2l-2 -2zM374.3 125.82l2 2l-2 2l-2 -2zM378.39 124.44l2 2l-2 2l-2 -2zM382.48 123.08l2 2l-2 2l-2 -2zM386.57 121.75l2 2l-2 2l-2 -2zM390.66 120.48l2 2l-2 2l-2 -2zM394.75 119.28l2 2l-2 2l-2 -2zM398.84 118.15l2 2l-2 2l-2 -2zM402.93 117.08l2 2l-2 2l-2 -2zM407.02 116.05l2 2l-2 2l-2 -2zM411.11 115.04l2 2l-2 2l-2 -2zM415.2 114.01l2 2l-2 2l-2 -2zM419.29 112.96l2 2l-2 2l-2 -2zM423.38 111.91l2 2l-2 2l-2 -2zM427.47 110.85l2 2l-2 2l-2 -2zM431.56 109.79l2 2l-2 2l-2 -2zM435.65 108.75l2 2l-2 2l-2 -2zM439.74 107.73l2 2l-2 2l-2 -2zM443.83 106.72l2 2l-2 2l-2 -2zM447.92 105.71l2 2l-2 2l-2 -2zM452.01 104.67l2 2l-2 2l-2 -2zM456.1 103.6l2 2l-2 2l-2 -2zM460.19 102.46l2 2l-2 2l-2 -2zM464.28 101.26l2 2l-2 2l-2 -2zM468.37 100.02l2 2l-2 2l-2 -2zM472.46 98.8l2 2l-2 2l-2 -2zM476.55 97.63l2 2l-2 2l-2 -2zM480.64 96.56l2 2l-2 2l-2 -2zM484.73 95.6l2 2l-2 2l-2 -2zM488.82 94.74l2 2l-2 2l-2 -2zM492.91 93.93l2 2l-2 2l-2 -2zM497 93.18l2 2l-2 2l-2 -2zM501.09 92.49l2 2l-2 2l-2 -2zM505.18 91.86l2 2l-2 2l-2 -2zM509.27 91.29l2 2l-2 2l-2 -2zM513.36 90.8l2 2l-2 2l-2 -2zM517.45 90.38l2 2l-2 2l-2 -2zM521.54 90.01l2 2l-2 2l-2 -2zM525.63 89.67l2 2l-2 2l-2 -2zM529.72 89.37l2 2l-2 2l-2 -2zM533.81 89.1l2 2l-2 2l-2 -2zM537.9 88.85l2 2l-2 2l-2 -2zM541.99 88.64l2 2l-2 2l-2 -2zM546.08 88.46l2 2l-2 2l-2 -2zM550.17 88.3l2 2l-2 2l-2 -2zM554.26 88.15l2 2l-2 2l-2 -2zM558.35 88.02l2 2l-2 2l-2 -2zM562.44 87.9l2 2l-2 2l-2 -2zM566.53 87.8l2 2l-2 2l-2 -2zM570.62 87.71l2 2l-2 2l-2 -2zM574.71 87.65l2 2l-2 2l-2 -2zM578.8 87.61l2 2l-2 2l-2 -2z"/>
<path fill="#d62728" d="M333.4 151.06l2 2l-2 2l-2 -2zM337.49 149.86l2 2l-2 2l-2 -2zM341.58 148.64l2 2l-2 2l-2 -2zM345.67 147.4l2 2l-2 2l-2 -2zM349.76 146.14l2 2l-2 2l-2 -2zM353.85 144.85l2 2l-2 2l-2 -2zM357.94 143.52l2 2l-2 2l-2 -2zM362.03 142.17l2 2l-2 2l-2 -2zM366.12 140.82l2 2l-2 2l-2 -2zM370.21 139.51l2 2l-2 2l-2 -2zM374.3 138.27l2 2l-2 2l-2 -2zM378.39 137.11l2 2l-2 2l-2 -2zM382.48 136.02l2 2l-2 2l-2 -2zM386.57 134.97l2 2l-2 2l-2 -2zM390.66 133.94l2 2l-2 2l-2 -2zM394.75 132.91l2 2l-2 2l-2 -2zM398.84 131.87l2 2l-2 2l-2 -2zM402.93 130.83l2 2l-2 2l-2 -2zM407.02 129.79l2 2l-2 2l-2 -2zM411.11 128.76l2 2l-2 2l-2 -2zM415.2 127.73l2 2l-2 2l-2 -2zM419.29 126.7l2 2l-2 2l-2 -2zM423.38 125.67l2 2l-2 2l-2 -2zM427.47 124.65l2 2l-2 2l-2 -2zM431.56 123.64l2 2l-2 2l-2 -2zM435.65 122.65l2 2l-2 2l-2 -2zM439.74 121.66l2 2l-2 2l-2 -2zM443.83 120.69l2 2l-2 2l-2 -2zM447.92 119.73l2 2l-2 2l-2 -2zM452.01 118.78l2 2l-2 2l-2 -2zM456.1 117.83l2 2l-2 2l-2 -2zM460.19 116.87l2 2l-2 2l-2 -2zM464.28 115.88l2 2l-2 2l-2 -2zM468.37 114.91l2 2l-2 2l-2 -2zM472.46 113.98l2 2l-2 2l-2 -2zM476.55 113.14l2 2l-2 2l-2 -2zM480.64 112.43l2 2l-2 2l-2 -2zM484.73 111.85l2 2l-2 2l-2 -2zM488.82 111.38l2 2l-2 2l-2 -2zM492.91 110.98l2 2l-2 2l-2 -2zM497 110.63l2 2l-2 2l-2 -2zM501.09 110.32l2 2l-2 2l-2 -2zM505.18 110.05l2 2l-2 2l-2 -2zM509.27 109.82l2 2l-2 2l-2 -2zM513.36 109.63l2 2l-2 2l-2 -2zM517.45 109.46l2 2l-2 2l-2 -2zM521.54 109.33l2 2l-2 2l-2 -2zM525.63 109.23l2 2l-2 2l-2 -2zM529.72 109.14l2 2l-2 2l-2 -2zM533.81 109.05l2 2l-2 2l-2 -2zM537.9 108.95l2 2l-2 2l-2 -2zM541.99 108.85l2 2l-2 2l-2 -2zM546.08 108.71l2 2l-2 2l-2 -2zM550.17 108.54l2 2l-2 2l-2 -2zM554.26 108.33l2 2l-2 2l-2 -2zM558.35 108.09l2 2l-2 2l-2 -2zM562.44 107.82l2 2l-2 2l-2 -2zM566.53 107.52l2 2l-2 2l-2 -2zM570.62 107.2l2 2l-2 2l-2 -2zM574.71 106.85l2 2l-2 2l-2 -2zM578.8 106.47l2 2l-2 2l-2 -2z"/>
<path fill="#9467bd" d="M333.4 164.27l2 2l-2 2l-2 -2zM337.49 163.47l2 2l-2 2l-2 -2zM341.58 162.66l2 2l-2 2l-2 -2zM345.67 161.82l2 2l-2 2l-2 -2zM349.76 160.95l2 2l-2 2l-2 -2zM353.85 160.06l2 2l-2 2l-2 -2zM357.94 159.15l2 2l-2 2l-2 -2zM362.03 158.2l2 2l-2 2l-2 -2zM366.12 157.24l2 2l-2 2l-2 -2zM370.21 156.27l2 2l-2 2l-2 -2zM374.3 155.31l2 2l-2 2l-2 -2zM378.39 154.35l2 2l-2 2l-2 -2zM382.48 153.4l2 2l-2 2l-2 -2zM386.57 152.46l2 2l-2 2l-2 -2zM390.66 151.54l2 2l-2 2l-2 -2zM394.75 150.63l2 2l-2 2l-2 -2zM398.84 149.74l2 2l-2 2l-2 -2zM402.93 148.88l2 2l-2 2l-2 -2zM407.02 148.02l2 2l-2 2l-2 -2zM411.11 147.17l2 2l-2 2l-2 -2zM415.2 146.31l2 2l-2 2l-2 -2zM419.29 145.45l2 2l-2 2l-2 -2zM423.38 144.58l2 2l-2 2l-2 -2zM427.47 143.72l2 2l-2 2l-2 -2zM431.56 142.87l2 2l-2 2l-2 -2zM435.65 142.04l2 2l-2 2l-2 -2zM439.74 141.24l2 2l-2 2l-2 -2zM443.83 140.46l2 2l-2 2l-2 -2zM447.92 139.71l2 2l-2 2l-2 -2zM452.01 139.01l2 2l-2 2l-2 -2zM456.1 138.36l2 2l-2 2l-2 -2zM460.19 137.75l2 2l-2 2l-2 -2zM464.28 137.18l2 2l-2 2l-2 -2zM468.37 136.65l2 2l-2 2l-2 -2zM472.46 136.18l2 2l-2 2l-2 -2zM476.55 135.82l2 2l-2 2l-2 -2zM480.64 135.56l2 2l-2 2l-2 -2zM484.73 135.38l2 2l-2 2l-2 -2zM488.82 135.25l2 2l-2 2l-2 -2zM492.91 135.15l2 2l-2 2l-2 -2zM497 135.06l2 2l-2 2l-2 -2zM501.09 134.98l2 2l-2 2l-2 -2zM505.18 134.91l2 2l-2 2l-2 -2zM509.27 134.84l2 2l-2 2l-2 -2zM513.36 134.77l2 2l-2 2l-2 -2zM517.45 134.69l2 2l-2 2l-2 -2zM521.54 134.6l2 2l-2 2l-2 -2zM525.63 134.49l2 2l-2 2l-2 -2zM529.72 134.35l2 2l-2 2l-2 -2zM533.81 134.16l2 2l-2 2l-2 -2zM537.9 133.93l2 2l-2 2l-2 -2zM541.99 133.66l2 2l-2 2l-2 -2zM546.08 133.34l2 2l-2 2l-2 -2zM550.17 132.97l2 2l-2 2l-2 -2zM554.26 132.48l2 2l-2 2l-2 -2zM558.35 131.83l2 2l-2 2l-2 -2zM562.44 131.01l2 2l-2 2l-2 -2zM566.53 130.07l2 2l-2 2l-2 -2zM570.62 128.98l2 2l-2 2l-2 -2zM574.71 127.55l2 2l-2 2l-2 -2zM578.8 125.72l2 2l-2 2l-2 -2z"/>
</g>
<path d="M345.14 198.4V200.2M352.36 198.4V200.2M357.48 198.4V200.2M361.46 198.4V200.2M364.7 198.4V200.2M367.45 198.4V200.2M369.83 198.4V200.2M371.92 198.4V200.2M386.14 198.4V200.2M393.36 198.4V200.2M398.48 198.4V200.2M402.46 198.4V200.2M405.7 198.4V200.2M408.45 198.4V200.2M410.83 198.4V200.2M412.92 198.4V200.2M427.14 198.4V200.2M434.36 198.4V200.2M439.48 198.4V200.2M443.46 198.4V200.2M446.7 198.4V200.2M449.45 198.4V200.2M451.83 198.4V200.2M453.92 198.4V200.2M468.14 198.4V200.2M475.36 198.4V200.2M480.48 198.4V200.2M484.46 198.4V200.2M487.7 198.4V200.2M490.45 198.4V200.2M492.83 198.4V200.2M494.92 198.4V200.2M509.14 198.4V200.2M516.36 198.4V200.2M521.48 198.4V200.2M525.46 198.4V200.2M528.7 198.4V200.2M531.45 198.4V200.2M533.83 198.4V200.2M535.92 198.4V200.2M550.14 198.4V200.2M557.36 198.4V200.2M562.48 198.4V200.2M566.46 198.4V200.2M569.7 198.4V200.2M572.45 198.4V200.2M574.83 198.4V200.2M576.92 198.4V200.2M331.8 198.57H333.6M331.8 192.56H333.6M331.8 187.65H333.6M331.8 183.5H333.6M331.8 179.91H333.6M331.8 176.74H333.6M331.8 155.24H333.6M331.8 144.32H333.6M331.8 136.57H333.6M331.8 130.56H333.6M331.8 125.65H333.6M331.8 121.5H333.6M331.8 117.91H333.6M331.8 114.74H333.6M331.8 93.24H333.6M331.8 82.32H333.6M331.8 74.57H333.6M331.8 68.56H333.6M331.8 63.65H333.6M331.8 59.5H333.6M331.8 55.91H333.6M331.8 52.74H333.6M331.8 31.24H333.6M331.8 20.32H333.6M331.8 12.57H333.6" stroke="#9a9a9a" stroke-width="0.5" fill="none"/>
<path d="M373.5 196.2V201M414.5 196.2V201M455.5 196.2V201M496.5 196.2V201M537.5 196.2V201M578.5 196.2V201M331 173.5H335.8M331 111.5H335.8M331 49.5H335.8" stroke="#6a6a6a" stroke-width="0.8" fill="none"/>
<rect x="333.4" y="12.5" width="245.4" height="186.1" fill="none" stroke="#adadad" stroke-width="1"/>
<text x="374.4" y="210.8" text-anchor="middle" font-size="9.1">10<tspan font-size="7" dy="-4.2" dx="0.4">0</tspan></text>
<text x="415.4" y="210.8" text-anchor="middle" font-size="9.1">10<tspan font-size="7" dy="-4.2" dx="0.4">1</tspan></text>
<text x="456.4" y="210.8" text-anchor="middle" font-size="9.1">10<tspan font-size="7" dy="-4.2" dx="0.4">2</tspan></text>
<text x="497.4" y="210.8" text-anchor="middle" font-size="9.1">10<tspan font-size="7" dy="-4.2" dx="0.4">3</tspan></text>
<text x="538.4" y="210.8" text-anchor="middle" font-size="9.1">10<tspan font-size="7" dy="-4.2" dx="0.4">4</tspan></text>
<text x="579.4" y="210.8" text-anchor="middle" font-size="9.1">10<tspan font-size="7" dy="-4.2" dx="0.4">5</tspan></text>
<text x="329.6" y="178.5" text-anchor="end" font-size="9.1">10<tspan font-size="7" dy="-4.2" dx="0.4">−3</tspan></text>
<text x="329.6" y="116.5" text-anchor="end" font-size="9.1">10<tspan font-size="7" dy="-4.2" dx="0.4">−2</tspan></text>
<text x="329.6" y="54.5" text-anchor="end" font-size="9.1">10<tspan font-size="7" dy="-4.2" dx="0.4">−1</tspan></text>
<text x="456.1" y="222" text-anchor="middle" font-size="9.6">frequency [Hz]</text>
<text transform="translate(303.2 106.75) rotate(-90)" text-anchor="middle" font-size="9.6">Quadrature conductivity [S/m]</text>
<text x="344.5" y="25.7" class="tag" font-size="13.6"><tspan font-size="12.6" dy="-0.4">(</tspan><tspan font-weight="bold" dy="0.4">b</tspan><tspan font-size="12.6" dy="-0.4">)</tspan></text>
<clipPath id="clipc"><rect x="39.2" y="245.6" width="245.8" height="185.7"/></clipPath>
<g clip-path="url(#clipc)" opacity="0.92">
<path d="M39.2 347.33 L42.31 346.86 L45.42 346.37 L48.53 345.84 L51.65 345.28 L54.76 344.69 L57.87 344.06 L60.98 343.4 L64.09 342.7 L67.2 341.95 L70.31 341.16 L73.43 340.34 L76.54 339.47 L79.65 338.58 L82.76 337.65 L85.87 336.69 L88.98 335.69 L92.09 334.64 L95.21 333.53 L98.32 332.35 L101.43 331.08 L104.54 329.73 L107.65 328.29 L110.76 326.78 L113.87 325.22 L116.98 323.64 L120.1 322.05 L123.21 320.45 L126.32 318.84 L129.43 317.22 L132.54 315.61 L135.65 314.01 L138.76 312.43 L141.88 310.9 L144.99 309.39 L148.1 307.88 L151.21 306.33 L154.32 304.69 L157.43 302.97 L160.54 301.18 L163.66 299.36 L166.77 297.54 L169.88 295.73 L172.99 293.92 L176.1 292.14 L179.21 290.37 L182.32 288.61 L185.44 286.88 L188.55 285.17 L191.66 283.47 L194.77 281.79 L197.88 280.11 L200.99 278.45 L204.1 276.8 L207.22 275.18 L210.33 273.6 L213.44 272.06 L216.55 270.57 L219.66 269.15 L222.77 267.77 L225.88 266.44 L228.99 265.15 L232.11 263.89 L235.22 262.67 L238.33 261.5 L241.44 260.37 L244.55 259.31 L247.66 258.32 L250.77 257.41 L253.89 256.56 L257 255.77 L260.11 255.04 L263.22 254.34 L266.33 253.68 L269.44 253.06 L272.55 252.49 L275.67 251.97 L278.78 251.5 L281.89 251.08 L285 250.71" fill="none" stroke="#1f77b4" stroke-width="1.0" stroke-dasharray="3.5 1.5"/>
<path d="M39.2 373.49 L42.31 372.29 L45.42 371.1 L48.53 369.92 L51.65 368.75 L54.76 367.59 L57.87 366.43 L60.98 365.29 L64.09 364.15 L67.2 363.01 L70.31 361.89 L73.43 360.79 L76.54 359.71 L79.65 358.68 L82.76 357.68 L85.87 356.7 L88.98 355.72 L92.09 354.69 L95.21 353.61 L98.32 352.45 L101.43 351.22 L104.54 349.93 L107.65 348.58 L110.76 347.18 L113.87 345.73 L116.98 344.23 L120.1 342.65 L123.21 341.01 L126.32 339.27 L129.43 337.45 L132.54 335.54 L135.65 333.58 L138.76 331.56 L141.88 329.52 L144.99 327.47 L148.1 325.43 L151.21 323.42 L154.32 321.45 L157.43 319.53 L160.54 317.68 L163.66 315.87 L166.77 314.1 L169.88 312.36 L172.99 310.64 L176.1 308.96 L179.21 307.33 L182.32 305.76 L185.44 304.26 L188.55 302.85 L191.66 301.54 L194.77 300.33 L197.88 299.2 L200.99 298.12 L204.1 297.03 L207.22 295.9 L210.33 294.67 L213.44 293.36 L216.55 292.01 L219.66 290.73 L222.77 289.58 L225.88 288.58 L228.99 287.72 L232.11 286.94 L235.22 286.24 L238.33 285.6 L241.44 285 L244.55 284.46 L247.66 283.96 L250.77 283.5 L253.89 283.07 L257 282.68 L260.11 282.3 L263.22 281.95 L266.33 281.61 L269.44 281.3 L272.55 281.02 L275.67 280.77 L278.78 280.55 L281.89 280.37 L285 280.21" fill="none" stroke="#ff7f0e" stroke-width="1.0" stroke-dasharray="3.5 1.5"/>
<path d="M39.2 393.07 L42.31 391.95 L45.42 390.81 L48.53 389.64 L51.65 388.44 L54.76 387.21 L57.87 385.95 L60.98 384.67 L64.09 383.35 L67.2 382.01 L70.31 380.64 L73.43 379.25 L76.54 377.83 L79.65 376.37 L82.76 374.87 L85.87 373.33 L88.98 371.75 L92.09 370.11 L95.21 368.45 L98.32 366.75 L101.43 365.03 L104.54 363.3 L107.65 361.56 L110.76 359.83 L113.87 358.1 L116.98 356.39 L120.1 354.68 L123.21 352.98 L126.32 351.28 L129.43 349.57 L132.54 347.86 L135.65 346.15 L138.76 344.44 L141.88 342.73 L144.99 341.04 L148.1 339.37 L151.21 337.72 L154.32 336.1 L157.43 334.51 L160.54 332.94 L163.66 331.39 L166.77 329.86 L169.88 328.33 L172.99 326.83 L176.1 325.35 L179.21 323.93 L182.32 322.58 L185.44 321.3 L188.55 320.11 L191.66 319.01 L194.77 317.99 L197.88 317.02 L200.99 316.11 L204.1 315.24 L207.22 314.42 L210.33 313.65 L213.44 312.92 L216.55 312.25 L219.66 311.63 L222.77 311.06 L225.88 310.52 L228.99 310.02 L232.11 309.55 L235.22 309.1 L238.33 308.68 L241.44 308.3 L244.55 307.94 L247.66 307.61 L250.77 307.32 L253.89 307.05 L257 306.81 L260.11 306.59 L263.22 306.38 L266.33 306.18 L269.44 306 L272.55 305.84 L275.67 305.7 L278.78 305.58 L281.89 305.49 L285 305.41" fill="none" stroke="#2ca02c" stroke-width="1.0" stroke-dasharray="3.5 1.5"/>
<path d="M39.2 410.34 L42.31 408.65 L45.42 406.96 L48.53 405.28 L51.65 403.61 L54.76 401.95 L57.87 400.3 L60.98 398.66 L64.09 397.03 L67.2 395.41 L70.31 393.8 L73.43 392.2 L76.54 390.62 L79.65 389.05 L82.76 387.5 L85.87 385.96 L88.98 384.45 L92.09 382.94 L95.21 381.45 L98.32 379.97 L101.43 378.49 L104.54 377.01 L107.65 375.52 L110.76 374.02 L113.87 372.51 L116.98 370.97 L120.1 369.4 L123.21 367.79 L126.32 366.13 L129.43 364.43 L132.54 362.7 L135.65 360.96 L138.76 359.2 L141.88 357.46 L144.99 355.75 L148.1 354.09 L151.21 352.48 L154.32 350.95 L157.43 349.5 L160.54 348.14 L163.66 346.85 L166.77 345.62 L169.88 344.45 L172.99 343.32 L176.1 342.24 L179.21 341.22 L182.32 340.27 L185.44 339.38 L188.55 338.57 L191.66 337.82 L194.77 337.13 L197.88 336.48 L200.99 335.88 L204.1 335.31 L207.22 334.77 L210.33 334.27 L213.44 333.81 L216.55 333.38 L219.66 333 L222.77 332.64 L225.88 332.31 L228.99 332.01 L232.11 331.72 L235.22 331.45 L238.33 331.21 L241.44 330.97 L244.55 330.76 L247.66 330.57 L250.77 330.39 L253.89 330.23 L257 330.08 L260.11 329.95 L263.22 329.82 L266.33 329.69 L269.44 329.58 L272.55 329.48 L275.67 329.39 L278.78 329.32 L281.89 329.26 L285 329.21" fill="none" stroke="#d62728" stroke-width="1.0" stroke-dasharray="3.5 1.5"/>
<path d="M39.2 425.04 L42.31 423.49 L45.42 421.93 L48.53 420.37 L51.65 418.79 L54.76 417.21 L57.87 415.61 L60.98 414.01 L64.09 412.4 L67.2 410.78 L70.31 409.15 L73.43 407.51 L76.54 405.86 L79.65 404.19 L82.76 402.5 L85.87 400.77 L88.98 399.02 L92.09 397.24 L95.21 395.45 L98.32 393.65 L101.43 391.87 L104.54 390.1 L107.65 388.37 L110.76 386.67 L113.87 385.03 L116.98 383.44 L120.1 381.9 L123.21 380.4 L126.32 378.93 L129.43 377.48 L132.54 376.05 L135.65 374.64 L138.76 373.27 L141.88 371.94 L144.99 370.66 L148.1 369.43 L151.21 368.26 L154.32 367.16 L157.43 366.14 L160.54 365.19 L163.66 364.29 L166.77 363.45 L169.88 362.66 L172.99 361.9 L176.1 361.19 L179.21 360.53 L182.32 359.92 L185.44 359.36 L188.55 358.87 L191.66 358.43 L194.77 358.03 L197.88 357.67 L200.99 357.34 L204.1 357.04 L207.22 356.75 L210.33 356.49 L213.44 356.25 L216.55 356.02 L219.66 355.81 L222.77 355.62 L225.88 355.43 L228.99 355.26 L232.11 355.1 L235.22 354.95 L238.33 354.8 L241.44 354.67 L244.55 354.54 L247.66 354.43 L250.77 354.32 L253.89 354.22 L257 354.12 L260.11 354.03 L263.22 353.95 L266.33 353.86 L269.44 353.79 L272.55 353.72 L275.67 353.65 L278.78 353.6 L281.89 353.55 L285 353.5" fill="none" stroke="#9467bd" stroke-width="1.0" stroke-dasharray="3.5 1.5"/>
<path fill="#1f77b4" d="M51.49 361.29l2 2l-2 2l-2 -2zM55.59 359.41l2 2l-2 2l-2 -2zM59.68 357.48l2 2l-2 2l-2 -2zM63.78 355.51l2 2l-2 2l-2 -2zM67.88 353.48l2 2l-2 2l-2 -2zM71.97 351.41l2 2l-2 2l-2 -2zM76.07 349.3l2 2l-2 2l-2 -2zM80.17 347.15l2 2l-2 2l-2 -2zM84.26 344.97l2 2l-2 2l-2 -2zM88.36 342.77l2 2l-2 2l-2 -2zM92.46 340.57l2 2l-2 2l-2 -2zM96.55 338.42l2 2l-2 2l-2 -2zM100.65 336.31l2 2l-2 2l-2 -2zM104.75 334.22l2 2l-2 2l-2 -2zM108.84 332.11l2 2l-2 2l-2 -2zM112.94 329.96l2 2l-2 2l-2 -2zM117.04 327.73l2 2l-2 2l-2 -2zM121.13 325.38l2 2l-2 2l-2 -2zM125.23 322.89l2 2l-2 2l-2 -2zM129.33 320.3l2 2l-2 2l-2 -2zM133.42 317.63l2 2l-2 2l-2 -2zM137.52 314.94l2 2l-2 2l-2 -2zM141.62 312.23l2 2l-2 2l-2 -2zM145.71 309.53l2 2l-2 2l-2 -2zM149.81 306.82l2 2l-2 2l-2 -2zM153.91 304.14l2 2l-2 2l-2 -2zM158 301.51l2 2l-2 2l-2 -2zM162.1 298.97l2 2l-2 2l-2 -2zM166.2 296.51l2 2l-2 2l-2 -2zM170.29 294.12l2 2l-2 2l-2 -2zM174.39 291.79l2 2l-2 2l-2 -2zM178.49 289.5l2 2l-2 2l-2 -2zM182.58 287.25l2 2l-2 2l-2 -2zM186.68 285.08l2 2l-2 2l-2 -2zM190.78 283.04l2 2l-2 2l-2 -2zM194.87 281.16l2 2l-2 2l-2 -2zM198.97 279.42l2 2l-2 2l-2 -2zM203.07 277.77l2 2l-2 2l-2 -2zM207.16 276.14l2 2l-2 2l-2 -2zM211.26 274.53l2 2l-2 2l-2 -2zM215.36 272.97l2 2l-2 2l-2 -2zM219.45 271.57l2 2l-2 2l-2 -2zM223.55 270.42l2 2l-2 2l-2 -2zM227.65 269.49l2 2l-2 2l-2 -2zM231.74 268.72l2 2l-2 2l-2 -2zM235.84 268.05l2 2l-2 2l-2 -2zM239.94 267.45l2 2l-2 2l-2 -2zM244.03 266.9l2 2l-2 2l-2 -2zM248.13 266.37l2 2l-2 2l-2 -2zM252.23 265.85l2 2l-2 2l-2 -2zM256.32 265.34l2 2l-2 2l-2 -2zM260.42 264.83l2 2l-2 2l-2 -2zM264.52 264.34l2 2l-2 2l-2 -2zM268.61 263.87l2 2l-2 2l-2 -2zM272.71 263.41l2 2l-2 2l-2 -2zM276.81 262.98l2 2l-2 2l-2 -2zM280.9 262.57l2 2l-2 2l-2 -2zM285 262.18l2 2l-2 2l-2 -2zM39.2 368.6l2 2l-2 2l-2 -2zM43.3 365.9l2 2l-2 2l-2 -2zM47.39 363.2l2 2l-2 2l-2 -2z"/>
<path fill="#ff7f0e" d="M39.2 379.85l2 2l-2 2l-2 -2zM43.3 378.02l2 2l-2 2l-2 -2zM47.39 376.16l2 2l-2 2l-2 -2zM51.49 374.27l2 2l-2 2l-2 -2zM55.59 372.35l2 2l-2 2l-2 -2zM59.68 370.4l2 2l-2 2l-2 -2zM63.78 368.41l2 2l-2 2l-2 -2zM67.88 366.37l2 2l-2 2l-2 -2zM71.97 364.31l2 2l-2 2l-2 -2zM76.07 362.24l2 2l-2 2l-2 -2zM80.17 360.19l2 2l-2 2l-2 -2zM84.26 358.16l2 2l-2 2l-2 -2zM88.36 356.13l2 2l-2 2l-2 -2zM92.46 354.09l2 2l-2 2l-2 -2zM96.55 352.03l2 2l-2 2l-2 -2zM100.65 349.93l2 2l-2 2l-2 -2zM104.75 347.81l2 2l-2 2l-2 -2zM108.84 345.67l2 2l-2 2l-2 -2zM112.94 343.5l2 2l-2 2l-2 -2zM117.04 341.31l2 2l-2 2l-2 -2zM121.13 339.09l2 2l-2 2l-2 -2zM125.23 336.84l2 2l-2 2l-2 -2zM129.33 334.55l2 2l-2 2l-2 -2zM133.42 332.22l2 2l-2 2l-2 -2zM137.52 329.82l2 2l-2 2l-2 -2zM141.62 327.33l2 2l-2 2l-2 -2zM145.71 324.74l2 2l-2 2l-2 -2zM149.81 322.1l2 2l-2 2l-2 -2zM153.91 319.48l2 2l-2 2l-2 -2zM158 317l2 2l-2 2l-2 -2zM162.1 314.71l2 2l-2 2l-2 -2zM166.2 312.62l2 2l-2 2l-2 -2zM170.29 310.68l2 2l-2 2l-2 -2zM174.39 308.83l2 2l-2 2l-2 -2zM178.49 307.01l2 2l-2 2l-2 -2zM182.58 305.19l2 2l-2 2l-2 -2zM186.68 303.42l2 2l-2 2l-2 -2zM190.78 301.77l2 2l-2 2l-2 -2zM194.87 300.26l2 2l-2 2l-2 -2zM198.97 298.88l2 2l-2 2l-2 -2zM203.07 297.61l2 2l-2 2l-2 -2zM207.16 296.42l2 2l-2 2l-2 -2zM211.26 295.32l2 2l-2 2l-2 -2zM215.36 294.29l2 2l-2 2l-2 -2zM219.45 293.36l2 2l-2 2l-2 -2zM223.55 292.55l2 2l-2 2l-2 -2zM227.65 291.83l2 2l-2 2l-2 -2zM231.74 291.2l2 2l-2 2l-2 -2zM235.84 290.61l2 2l-2 2l-2 -2zM239.94 290.07l2 2l-2 2l-2 -2zM244.03 289.57l2 2l-2 2l-2 -2zM248.13 289.09l2 2l-2 2l-2 -2zM252.23 288.63l2 2l-2 2l-2 -2zM256.32 288.18l2 2l-2 2l-2 -2zM260.42 287.75l2 2l-2 2l-2 -2zM264.52 287.34l2 2l-2 2l-2 -2zM268.61 286.95l2 2l-2 2l-2 -2zM272.71 286.58l2 2l-2 2l-2 -2zM276.81 286.23l2 2l-2 2l-2 -2zM280.9 285.9l2 2l-2 2l-2 -2zM285 285.59l2 2l-2 2l-2 -2z"/>
<path fill="#2ca02c" d="M39.2 390.27l2 2l-2 2l-2 -2zM43.3 388.78l2 2l-2 2l-2 -2zM47.39 387.24l2 2l-2 2l-2 -2zM51.49 385.65l2 2l-2 2l-2 -2zM55.59 384.02l2 2l-2 2l-2 -2zM59.68 382.33l2 2l-2 2l-2 -2zM63.78 380.6l2 2l-2 2l-2 -2zM67.88 378.83l2 2l-2 2l-2 -2zM71.97 377.01l2 2l-2 2l-2 -2zM76.07 375.15l2 2l-2 2l-2 -2zM80.17 373.23l2 2l-2 2l-2 -2zM84.26 371.24l2 2l-2 2l-2 -2zM88.36 369.18l2 2l-2 2l-2 -2zM92.46 367.04l2 2l-2 2l-2 -2zM96.55 364.84l2 2l-2 2l-2 -2zM100.65 362.61l2 2l-2 2l-2 -2zM104.75 360.34l2 2l-2 2l-2 -2zM108.84 358.07l2 2l-2 2l-2 -2zM112.94 355.8l2 2l-2 2l-2 -2zM117.04 353.55l2 2l-2 2l-2 -2zM121.13 351.31l2 2l-2 2l-2 -2zM125.23 349.08l2 2l-2 2l-2 -2zM129.33 346.84l2 2l-2 2l-2 -2zM133.42 344.59l2 2l-2 2l-2 -2zM137.52 342.34l2 2l-2 2l-2 -2zM141.62 340.1l2 2l-2 2l-2 -2zM145.71 337.87l2 2l-2 2l-2 -2zM149.81 335.68l2 2l-2 2l-2 -2zM153.91 333.53l2 2l-2 2l-2 -2zM158 331.44l2 2l-2 2l-2 -2zM162.1 329.41l2 2l-2 2l-2 -2zM166.2 327.44l2 2l-2 2l-2 -2zM170.29 325.53l2 2l-2 2l-2 -2zM174.39 323.66l2 2l-2 2l-2 -2zM178.49 321.83l2 2l-2 2l-2 -2zM182.58 320.04l2 2l-2 2l-2 -2zM186.68 318.34l2 2l-2 2l-2 -2zM190.78 316.8l2 2l-2 2l-2 -2zM194.87 315.48l2 2l-2 2l-2 -2zM198.97 314.32l2 2l-2 2l-2 -2zM203.07 313.27l2 2l-2 2l-2 -2zM207.16 312.27l2 2l-2 2l-2 -2zM211.26 311.27l2 2l-2 2l-2 -2zM215.36 310.29l2 2l-2 2l-2 -2zM219.45 309.37l2 2l-2 2l-2 -2zM223.55 308.55l2 2l-2 2l-2 -2zM227.65 307.83l2 2l-2 2l-2 -2zM231.74 307.18l2 2l-2 2l-2 -2zM235.84 306.59l2 2l-2 2l-2 -2zM239.94 306.05l2 2l-2 2l-2 -2zM244.03 305.56l2 2l-2 2l-2 -2zM248.13 305.14l2 2l-2 2l-2 -2zM252.23 304.79l2 2l-2 2l-2 -2zM256.32 304.48l2 2l-2 2l-2 -2zM260.42 304.2l2 2l-2 2l-2 -2zM264.52 303.95l2 2l-2 2l-2 -2zM268.61 303.73l2 2l-2 2l-2 -2zM272.71 303.54l2 2l-2 2l-2 -2zM276.81 303.39l2 2l-2 2l-2 -2zM280.9 303.28l2 2l-2 2l-2 -2zM285 303.22l2 2l-2 2l-2 -2z"/>
<path fill="#d62728" d="M39.2 403.46l2 2l-2 2l-2 -2zM43.3 401.52l2 2l-2 2l-2 -2zM47.39 399.59l2 2l-2 2l-2 -2zM51.49 397.65l2 2l-2 2l-2 -2zM55.59 395.71l2 2l-2 2l-2 -2zM59.68 393.76l2 2l-2 2l-2 -2zM63.78 391.81l2 2l-2 2l-2 -2zM67.88 389.86l2 2l-2 2l-2 -2zM71.97 387.9l2 2l-2 2l-2 -2zM76.07 385.94l2 2l-2 2l-2 -2zM80.17 383.97l2 2l-2 2l-2 -2zM84.26 382l2 2l-2 2l-2 -2zM88.36 380.03l2 2l-2 2l-2 -2zM92.46 378.06l2 2l-2 2l-2 -2zM96.55 376.08l2 2l-2 2l-2 -2zM100.65 374.09l2 2l-2 2l-2 -2zM104.75 372.11l2 2l-2 2l-2 -2zM108.84 370.12l2 2l-2 2l-2 -2zM112.94 368.13l2 2l-2 2l-2 -2zM117.04 366.13l2 2l-2 2l-2 -2zM121.13 364.1l2 2l-2 2l-2 -2zM125.23 362.04l2 2l-2 2l-2 -2zM129.33 359.94l2 2l-2 2l-2 -2zM133.42 357.8l2 2l-2 2l-2 -2zM137.52 355.65l2 2l-2 2l-2 -2zM141.62 353.53l2 2l-2 2l-2 -2zM145.71 351.45l2 2l-2 2l-2 -2zM149.81 349.46l2 2l-2 2l-2 -2zM153.91 347.58l2 2l-2 2l-2 -2zM158 345.82l2 2l-2 2l-2 -2zM162.1 344.19l2 2l-2 2l-2 -2zM166.2 342.67l2 2l-2 2l-2 -2zM170.29 341.23l2 2l-2 2l-2 -2zM174.39 339.87l2 2l-2 2l-2 -2zM178.49 338.6l2 2l-2 2l-2 -2zM182.58 337.43l2 2l-2 2l-2 -2zM186.68 336.36l2 2l-2 2l-2 -2zM190.78 335.41l2 2l-2 2l-2 -2zM194.87 334.55l2 2l-2 2l-2 -2zM198.97 333.76l2 2l-2 2l-2 -2zM203.07 333.03l2 2l-2 2l-2 -2zM207.16 332.36l2 2l-2 2l-2 -2zM211.26 331.75l2 2l-2 2l-2 -2zM215.36 331.19l2 2l-2 2l-2 -2zM219.45 330.7l2 2l-2 2l-2 -2zM223.55 330.26l2 2l-2 2l-2 -2zM227.65 329.86l2 2l-2 2l-2 -2zM231.74 329.49l2 2l-2 2l-2 -2zM235.84 329.16l2 2l-2 2l-2 -2zM239.94 328.85l2 2l-2 2l-2 -2zM244.03 328.58l2 2l-2 2l-2 -2zM248.13 328.33l2 2l-2 2l-2 -2zM252.23 328.11l2 2l-2 2l-2 -2zM256.32 327.92l2 2l-2 2l-2 -2zM260.42 327.74l2 2l-2 2l-2 -2zM264.52 327.57l2 2l-2 2l-2 -2zM268.61 327.42l2 2l-2 2l-2 -2zM272.71 327.28l2 2l-2 2l-2 -2zM276.81 327.17l2 2l-2 2l-2 -2zM280.9 327.08l2 2l-2 2l-2 -2zM285 327.01l2 2l-2 2l-2 -2z"/>
<path fill="#9467bd" d="M39.2 415.46l2 2l-2 2l-2 -2zM43.3 413.61l2 2l-2 2l-2 -2zM47.39 411.75l2 2l-2 2l-2 -2zM51.49 409.88l2 2l-2 2l-2 -2zM55.59 407.98l2 2l-2 2l-2 -2zM59.68 406.07l2 2l-2 2l-2 -2zM63.78 404.14l2 2l-2 2l-2 -2zM67.88 402.2l2 2l-2 2l-2 -2zM71.97 400.23l2 2l-2 2l-2 -2zM76.07 398.25l2 2l-2 2l-2 -2zM80.17 396.23l2 2l-2 2l-2 -2zM84.26 394.16l2 2l-2 2l-2 -2zM88.36 392.04l2 2l-2 2l-2 -2zM92.46 389.87l2 2l-2 2l-2 -2zM96.55 387.67l2 2l-2 2l-2 -2zM100.65 385.48l2 2l-2 2l-2 -2zM104.75 383.32l2 2l-2 2l-2 -2zM108.84 381.22l2 2l-2 2l-2 -2zM112.94 379.19l2 2l-2 2l-2 -2zM117.04 377.26l2 2l-2 2l-2 -2zM121.13 375.42l2 2l-2 2l-2 -2zM125.23 373.65l2 2l-2 2l-2 -2zM129.33 371.93l2 2l-2 2l-2 -2zM133.42 370.24l2 2l-2 2l-2 -2zM137.52 368.6l2 2l-2 2l-2 -2zM141.62 367.03l2 2l-2 2l-2 -2zM145.71 365.53l2 2l-2 2l-2 -2zM149.81 364.12l2 2l-2 2l-2 -2zM153.91 362.81l2 2l-2 2l-2 -2zM158 361.63l2 2l-2 2l-2 -2zM162.1 360.55l2 2l-2 2l-2 -2zM166.2 359.57l2 2l-2 2l-2 -2zM170.29 358.67l2 2l-2 2l-2 -2zM174.39 357.84l2 2l-2 2l-2 -2zM178.49 357.07l2 2l-2 2l-2 -2zM182.58 356.36l2 2l-2 2l-2 -2zM186.68 355.71l2 2l-2 2l-2 -2zM190.78 355.12l2 2l-2 2l-2 -2zM194.87 354.58l2 2l-2 2l-2 -2zM198.97 354.08l2 2l-2 2l-2 -2zM203.07 353.62l2 2l-2 2l-2 -2zM207.16 353.19l2 2l-2 2l-2 -2zM211.26 352.8l2 2l-2 2l-2 -2zM215.36 352.42l2 2l-2 2l-2 -2zM219.45 352.08l2 2l-2 2l-2 -2zM223.55 351.76l2 2l-2 2l-2 -2zM227.65 351.45l2 2l-2 2l-2 -2zM231.74 351.17l2 2l-2 2l-2 -2zM235.84 350.9l2 2l-2 2l-2 -2zM239.94 350.65l2 2l-2 2l-2 -2zM244.03 350.41l2 2l-2 2l-2 -2zM248.13 350.2l2 2l-2 2l-2 -2zM252.23 350l2 2l-2 2l-2 -2zM256.32 349.82l2 2l-2 2l-2 -2zM260.42 349.65l2 2l-2 2l-2 -2zM264.52 349.49l2 2l-2 2l-2 -2zM268.61 349.35l2 2l-2 2l-2 -2zM272.71 349.22l2 2l-2 2l-2 -2zM276.81 349.1l2 2l-2 2l-2 -2zM280.9 348.99l2 2l-2 2l-2 -2zM285 348.9l2 2l-2 2l-2 -2z"/>
</g>
<path d="M50.93 431.1V432.9M58.15 431.1V432.9M63.28 431.1V432.9M67.25 431.1V432.9M70.5 431.1V432.9M73.25 431.1V432.9M75.62 431.1V432.9M77.72 431.1V432.9M91.95 431.1V432.9M99.17 431.1V432.9M104.3 431.1V432.9M108.27 431.1V432.9M111.52 431.1V432.9M114.27 431.1V432.9M116.64 431.1V432.9M118.74 431.1V432.9M132.97 431.1V432.9M140.19 431.1V432.9M145.32 431.1V432.9M149.29 431.1V432.9M152.54 431.1V432.9M155.29 431.1V432.9M157.66 431.1V432.9M159.76 431.1V432.9M173.99 431.1V432.9M181.21 431.1V432.9M186.34 431.1V432.9M190.31 431.1V432.9M193.56 431.1V432.9M196.31 431.1V432.9M198.68 431.1V432.9M200.78 431.1V432.9M215.01 431.1V432.9M222.23 431.1V432.9M227.36 431.1V432.9M231.33 431.1V432.9M234.58 431.1V432.9M237.33 431.1V432.9M239.7 431.1V432.9M241.8 431.1V432.9M256.03 431.1V432.9M263.25 431.1V432.9M268.38 431.1V432.9M272.35 431.1V432.9M275.6 431.1V432.9M278.35 431.1V432.9M280.72 431.1V432.9M282.82 431.1V432.9M37.6 416.03H39.4M37.6 407.15H39.4M37.6 400.86H39.4M37.6 395.97H39.4M37.6 391.98H39.4M37.6 388.61H39.4M37.6 385.68H39.4M37.6 383.11H39.4M37.6 365.63H39.4M37.6 356.75H39.4M37.6 350.46H39.4M37.6 345.57H39.4M37.6 341.58H39.4M37.6 338.21H39.4M37.6 335.28H39.4M37.6 332.71H39.4M37.6 315.23H39.4M37.6 306.35H39.4M37.6 300.06H39.4M37.6 295.17H39.4M37.6 291.18H39.4M37.6 287.81H39.4M37.6 284.88H39.4M37.6 282.31H39.4M37.6 264.83H39.4M37.6 255.95H39.4M37.6 249.66H39.4" stroke="#9a9a9a" stroke-width="0.5" fill="none"/>
<path d="M79.5 428.9V433.7M120.5 428.9V433.7M161.5 428.9V433.7M202.5 428.9V433.7M243.5 428.9V433.7M284.5 428.9V433.7M36.8 431.5H41.6M36.8 380.5H41.6M36.8 330.5H41.6M36.8 280.5H41.6" stroke="#6a6a6a" stroke-width="0.8" fill="none"/>
<rect x="39.2" y="245.6" width="245.8" height="185.7" fill="none" stroke="#adadad" stroke-width="1"/>
<text x="80.2" y="443.5" text-anchor="middle" font-size="9.1">10<tspan font-size="7" dy="-4.2" dx="0.4">0</tspan></text>
<text x="121.22" y="443.5" text-anchor="middle" font-size="9.1">10<tspan font-size="7" dy="-4.2" dx="0.4">1</tspan></text>
<text x="162.24" y="443.5" text-anchor="middle" font-size="9.1">10<tspan font-size="7" dy="-4.2" dx="0.4">2</tspan></text>
<text x="203.26" y="443.5" text-anchor="middle" font-size="9.1">10<tspan font-size="7" dy="-4.2" dx="0.4">3</tspan></text>
<text x="244.28" y="443.5" text-anchor="middle" font-size="9.1">10<tspan font-size="7" dy="-4.2" dx="0.4">4</tspan></text>
<text x="285.3" y="443.5" text-anchor="middle" font-size="9.1">10<tspan font-size="7" dy="-4.2" dx="0.4">5</tspan></text>
<text x="35.4" y="435.8" text-anchor="end" font-size="9.1">10<tspan font-size="7" dy="-4.2" dx="0.4">−2</tspan></text>
<text x="35.4" y="385.4" text-anchor="end" font-size="9.1">10<tspan font-size="7" dy="-4.2" dx="0.4">−1</tspan></text>
<text x="35.4" y="335" text-anchor="end" font-size="9.1">10<tspan font-size="7" dy="-4.2" dx="0.4">0</tspan></text>
<text x="35.4" y="284.6" text-anchor="end" font-size="9.1">10<tspan font-size="7" dy="-4.2" dx="0.4">1</tspan></text>
<text x="162.1" y="454.7" text-anchor="middle" font-size="9.6">frequency [Hz]</text>
<text transform="translate(10.2 339.65) rotate(-90)" text-anchor="middle" font-size="9.6">In-phase conductivity [S/m]</text>
<text x="162.1" y="243.1" text-anchor="middle" font-size="12.8">KM18-08C #84 R04A_3</text>
<text x="43.3" y="261.8" class="tag" font-size="13.6"><tspan font-size="12.6" dy="-0.4">(</tspan><tspan font-weight="bold" dy="0.4">c</tspan><tspan font-size="12.6" dy="-0.4">)</tspan></text>
<clipPath id="clipd"><rect x="333.4" y="245.6" width="245.4" height="185.7"/></clipPath>
<g clip-path="url(#clipd)" opacity="0.92">
<path d="M333.4 352.75 L336.51 350.89 L339.61 349.05 L342.72 347.21 L345.83 345.38 L348.93 343.56 L352.04 341.74 L355.14 339.93 L358.25 338.14 L361.36 336.36 L364.46 334.59 L367.57 332.84 L370.68 331.09 L373.78 329.35 L376.89 327.61 L379.99 325.86 L383.1 324.09 L386.21 322.29 L389.31 320.46 L392.42 318.6 L395.53 316.73 L398.63 314.87 L401.74 313.03 L404.85 311.23 L407.95 309.46 L411.06 307.7 L414.16 305.97 L417.27 304.25 L420.38 302.55 L423.48 300.86 L426.59 299.18 L429.7 297.51 L432.8 295.84 L435.91 294.17 L439.02 292.47 L442.12 290.76 L445.23 289.03 L448.33 287.29 L451.44 285.58 L454.55 283.9 L457.65 282.27 L460.76 280.7 L463.87 279.18 L466.97 277.71 L470.08 276.3 L473.18 274.94 L476.29 273.65 L479.4 272.43 L482.5 271.28 L485.61 270.18 L488.72 269.11 L491.82 268.04 L494.93 266.96 L498.04 265.86 L501.14 264.79 L504.25 263.77 L507.35 262.85 L510.46 262.07 L513.57 261.43 L516.67 260.94 L519.78 260.56 L522.89 260.26 L525.99 260.02 L529.1 259.85 L532.21 259.76 L535.31 259.76 L538.42 259.87 L541.52 260.08 L544.63 260.38 L547.74 260.74 L550.84 261.18 L553.95 261.7 L557.06 262.29 L560.16 262.97 L563.27 263.73 L566.37 264.56 L569.48 265.48 L572.59 266.47 L575.69 267.52 L578.8 268.62" fill="none" stroke="#1f77b4" stroke-width="1.0" stroke-dasharray="3.5 1.5"/>
<path d="M333.4 365.94 L336.51 364.35 L339.61 362.75 L342.72 361.14 L345.83 359.52 L348.93 357.87 L352.04 356.22 L355.14 354.54 L358.25 352.85 L361.36 351.14 L364.46 349.39 L367.57 347.63 L370.68 345.84 L373.78 344.04 L376.89 342.25 L379.99 340.47 L383.1 338.71 L386.21 336.98 L389.31 335.29 L392.42 333.64 L395.53 332.01 L398.63 330.38 L401.74 328.73 L404.85 327.06 L407.95 325.37 L411.06 323.67 L414.16 321.96 L417.27 320.23 L420.38 318.5 L423.48 316.76 L426.59 315.01 L429.7 313.27 L432.8 311.55 L435.91 309.88 L439.02 308.26 L442.12 306.68 L445.23 305.15 L448.33 303.68 L451.44 302.29 L454.55 301 L457.65 299.83 L460.76 298.79 L463.87 297.86 L466.97 297.01 L470.08 296.24 L473.18 295.52 L476.29 294.84 L479.4 294.2 L482.5 293.6 L485.61 293.05 L488.72 292.54 L491.82 292.07 L494.93 291.64 L498.04 291.26 L501.14 290.94 L504.25 290.71 L507.35 290.59 L510.46 290.6 L513.57 290.74 L516.67 290.98 L519.78 291.31 L522.89 291.72 L525.99 292.19 L529.1 292.76 L532.21 293.43 L535.31 294.23 L538.42 295.15 L541.52 296.15 L544.63 297.21 L547.74 298.29 L550.84 299.38 L553.95 300.5 L557.06 301.64 L560.16 302.81 L563.27 304.01 L566.37 305.25 L569.48 306.52 L572.59 307.82 L575.69 309.15 L578.8 310.51" fill="none" stroke="#ff7f0e" stroke-width="1.0" stroke-dasharray="3.5 1.5"/>
<path d="M333.4 380.45 L336.51 378.71 L339.61 376.97 L342.72 375.24 L345.83 373.52 L348.93 371.8 L352.04 370.09 L355.14 368.39 L358.25 366.69 L361.36 364.99 L364.46 363.31 L367.57 361.62 L370.68 359.94 L373.78 358.27 L376.89 356.61 L379.99 354.95 L383.1 353.31 L386.21 351.68 L389.31 350.06 L392.42 348.46 L395.53 346.88 L398.63 345.32 L401.74 343.76 L404.85 342.21 L407.95 340.65 L411.06 339.08 L414.16 337.49 L417.27 335.87 L420.38 334.19 L423.48 332.45 L426.59 330.68 L429.7 328.9 L432.8 327.19 L435.91 325.61 L439.02 324.18 L442.12 322.9 L445.23 321.75 L448.33 320.72 L451.44 319.79 L454.55 318.98 L457.65 318.28 L460.76 317.68 L463.87 317.15 L466.97 316.69 L470.08 316.3 L473.18 316 L476.29 315.8 L479.4 315.69 L482.5 315.66 L485.61 315.7 L488.72 315.84 L491.82 316.1 L494.93 316.48 L498.04 316.99 L501.14 317.6 L504.25 318.28 L507.35 319.02 L510.46 319.78 L513.57 320.56 L516.67 321.36 L519.78 322.2 L522.89 323.09 L525.99 324.04 L529.1 325.03 L532.21 326.08 L535.31 327.15 L538.42 328.25 L541.52 329.36 L544.63 330.47 L547.74 331.57 L550.84 332.67 L553.95 333.79 L557.06 334.93 L560.16 336.13 L563.27 337.42 L566.37 338.82 L569.48 340.38 L572.59 342.09 L575.69 343.94 L578.8 345.9" fill="none" stroke="#2ca02c" stroke-width="1.0" stroke-dasharray="3.5 1.5"/>
<path d="M333.4 392.94 L336.51 391.57 L339.61 390.17 L342.72 388.76 L345.83 387.32 L348.93 385.85 L352.04 384.36 L355.14 382.83 L358.25 381.27 L361.36 379.67 L364.46 378.03 L367.57 376.34 L370.68 374.61 L373.78 372.87 L376.89 371.13 L379.99 369.41 L383.1 367.72 L386.21 366.09 L389.31 364.5 L392.42 362.95 L395.53 361.43 L398.63 359.93 L401.74 358.47 L404.85 357.04 L407.95 355.66 L411.06 354.33 L414.16 353.07 L417.27 351.86 L420.38 350.71 L423.48 349.59 L426.59 348.49 L429.7 347.4 L432.8 346.35 L435.91 345.34 L439.02 344.39 L442.12 343.51 L445.23 342.72 L448.33 342.05 L451.44 341.48 L454.55 341.03 L457.65 340.69 L460.76 340.43 L463.87 340.26 L466.97 340.21 L470.08 340.29 L473.18 340.53 L476.29 340.91 L479.4 341.41 L482.5 341.99 L485.61 342.64 L488.72 343.38 L491.82 344.19 L494.93 345.09 L498.04 346.07 L501.14 347.11 L504.25 348.19 L507.35 349.29 L510.46 350.39 L513.57 351.5 L516.67 352.59 L519.78 353.67 L522.89 354.75 L525.99 355.84 L529.1 356.95 L532.21 358.08 L535.31 359.24 L538.42 360.44 L541.52 361.68 L544.63 362.98 L547.74 364.33 L550.84 365.76 L553.95 367.26 L557.06 368.83 L560.16 370.46 L563.27 372.16 L566.37 373.91 L569.48 375.73 L572.59 377.62 L575.69 379.57 L578.8 381.57" fill="none" stroke="#d62728" stroke-width="1.0" stroke-dasharray="3.5 1.5"/>
<path d="M333.4 406.46 L336.51 404.82 L339.61 403.2 L342.72 401.58 L345.83 399.98 L348.93 398.39 L352.04 396.8 L355.14 395.23 L358.25 393.67 L361.36 392.11 L364.46 390.56 L367.57 389.03 L370.68 387.5 L373.78 385.98 L376.89 384.48 L379.99 382.99 L383.1 381.5 L386.21 379.98 L389.31 378.42 L392.42 376.8 L395.53 375.13 L398.63 373.5 L401.74 371.97 L404.85 370.65 L407.95 369.59 L411.06 368.77 L414.16 368.13 L417.27 367.59 L420.38 367.07 L423.48 366.54 L426.59 366.02 L429.7 365.54 L432.8 365.13 L435.91 364.82 L439.02 364.61 L442.12 364.49 L445.23 364.48 L448.33 364.59 L451.44 364.83 L454.55 365.17 L457.65 365.58 L460.76 366.04 L463.87 366.54 L466.97 367.07 L470.08 367.64 L473.18 368.25 L476.29 368.88 L479.4 369.53 L482.5 370.2 L485.61 370.88 L488.72 371.58 L491.82 372.33 L494.93 373.15 L498.04 374.09 L501.14 375.19 L504.25 376.47 L507.35 377.93 L510.46 379.51 L513.57 381.17 L516.67 382.85 L519.78 384.53 L522.89 386.22 L525.99 387.92 L529.1 389.62 L532.21 391.33 L535.31 393.03 L538.42 394.74 L541.52 396.43 L544.63 398.13 L547.74 399.82 L550.84 401.51 L553.95 403.18 L557.06 404.84 L560.16 406.48 L563.27 408.11 L566.37 409.73 L569.48 411.34 L572.59 412.93 L575.69 414.52 L578.8 416.09" fill="none" stroke="#9467bd" stroke-width="1.0" stroke-dasharray="3.5 1.5"/>
<path fill="#1f77b4" d="M353.85 344.87l2 2l-2 2l-2 -2zM357.94 341.55l2 2l-2 2l-2 -2zM362.03 338.55l2 2l-2 2l-2 -2zM366.12 335.88l2 2l-2 2l-2 -2zM370.21 333.47l2 2l-2 2l-2 -2zM374.3 331.22l2 2l-2 2l-2 -2zM378.39 329.07l2 2l-2 2l-2 -2zM382.48 326.96l2 2l-2 2l-2 -2zM386.57 324.86l2 2l-2 2l-2 -2zM390.66 322.74l2 2l-2 2l-2 -2zM394.75 320.61l2 2l-2 2l-2 -2zM398.84 318.47l2 2l-2 2l-2 -2zM402.93 316.28l2 2l-2 2l-2 -2zM407.02 314.05l2 2l-2 2l-2 -2zM411.11 311.78l2 2l-2 2l-2 -2zM415.2 309.51l2 2l-2 2l-2 -2zM419.29 307.23l2 2l-2 2l-2 -2zM423.38 304.96l2 2l-2 2l-2 -2zM427.47 302.7l2 2l-2 2l-2 -2zM431.56 300.45l2 2l-2 2l-2 -2zM435.65 298.23l2 2l-2 2l-2 -2zM439.74 296.05l2 2l-2 2l-2 -2zM443.83 293.91l2 2l-2 2l-2 -2zM447.92 291.82l2 2l-2 2l-2 -2zM452.01 289.78l2 2l-2 2l-2 -2zM456.1 287.81l2 2l-2 2l-2 -2zM460.19 285.93l2 2l-2 2l-2 -2zM464.28 284.19l2 2l-2 2l-2 -2zM468.37 282.63l2 2l-2 2l-2 -2zM472.46 281.28l2 2l-2 2l-2 -2zM476.55 280.15l2 2l-2 2l-2 -2zM480.64 279.2l2 2l-2 2l-2 -2zM484.73 278.4l2 2l-2 2l-2 -2zM488.82 277.74l2 2l-2 2l-2 -2zM492.91 277.22l2 2l-2 2l-2 -2zM497 276.89l2 2l-2 2l-2 -2zM501.09 276.79l2 2l-2 2l-2 -2zM505.18 276.9l2 2l-2 2l-2 -2zM509.27 277.13l2 2l-2 2l-2 -2zM513.36 277.41l2 2l-2 2l-2 -2zM517.45 277.72l2 2l-2 2l-2 -2zM521.54 278.03l2 2l-2 2l-2 -2zM525.63 278.36l2 2l-2 2l-2 -2zM529.72 278.72l2 2l-2 2l-2 -2zM533.81 279.12l2 2l-2 2l-2 -2zM537.9 279.57l2 2l-2 2l-2 -2zM541.99 280.11l2 2l-2 2l-2 -2zM546.08 280.78l2 2l-2 2l-2 -2zM550.17 281.64l2 2l-2 2l-2 -2zM554.26 282.71l2 2l-2 2l-2 -2zM333.4 355.3l2 2l-2 2l-2 -2zM337.5 353.7l2 2l-2 2l-2 -2zM341.59 348.4l2 2l-2 2l-2 -2zM345.69 348.9l2 2l-2 2l-2 -2zM349.79 345.6l2 2l-2 2l-2 -2zM558.73 285l2 2l-2 2l-2 -2zM562.83 286.5l2 2l-2 2l-2 -2zM566.93 286.9l2 2l-2 2l-2 -2zM571.03 289l2 2l-2 2l-2 -2zM575.12 293.2l2 2l-2 2l-2 -2zM579.22 296.1l2 2l-2 2l-2 -2z"/>
<path fill="#ff7f0e" d="M333.4 366.15l2 2l-2 2l-2 -2zM337.49 364.1l2 2l-2 2l-2 -2zM341.58 362.06l2 2l-2 2l-2 -2zM345.67 360.01l2 2l-2 2l-2 -2zM349.76 357.97l2 2l-2 2l-2 -2zM353.85 355.92l2 2l-2 2l-2 -2zM357.94 353.88l2 2l-2 2l-2 -2zM362.03 351.85l2 2l-2 2l-2 -2zM366.12 349.82l2 2l-2 2l-2 -2zM370.21 347.8l2 2l-2 2l-2 -2zM374.3 345.78l2 2l-2 2l-2 -2zM378.39 343.74l2 2l-2 2l-2 -2zM382.48 341.69l2 2l-2 2l-2 -2zM386.57 339.62l2 2l-2 2l-2 -2zM390.66 337.51l2 2l-2 2l-2 -2zM394.75 335.37l2 2l-2 2l-2 -2zM398.84 333.22l2 2l-2 2l-2 -2zM402.93 331.07l2 2l-2 2l-2 -2zM407.02 328.93l2 2l-2 2l-2 -2zM411.11 326.8l2 2l-2 2l-2 -2zM415.2 324.7l2 2l-2 2l-2 -2zM419.29 322.63l2 2l-2 2l-2 -2zM423.38 320.59l2 2l-2 2l-2 -2zM427.47 318.59l2 2l-2 2l-2 -2zM431.56 316.63l2 2l-2 2l-2 -2zM435.65 314.72l2 2l-2 2l-2 -2zM439.74 312.86l2 2l-2 2l-2 -2zM443.83 311.02l2 2l-2 2l-2 -2zM447.92 309.25l2 2l-2 2l-2 -2zM452.01 307.6l2 2l-2 2l-2 -2zM456.1 306.16l2 2l-2 2l-2 -2zM460.19 304.95l2 2l-2 2l-2 -2zM464.28 303.96l2 2l-2 2l-2 -2zM468.37 303.12l2 2l-2 2l-2 -2zM472.46 302.41l2 2l-2 2l-2 -2zM476.55 301.83l2 2l-2 2l-2 -2zM480.64 301.36l2 2l-2 2l-2 -2zM484.73 301.01l2 2l-2 2l-2 -2zM488.82 300.8l2 2l-2 2l-2 -2zM492.91 300.76l2 2l-2 2l-2 -2zM497 300.89l2 2l-2 2l-2 -2zM501.09 301.17l2 2l-2 2l-2 -2zM505.18 301.54l2 2l-2 2l-2 -2zM509.27 301.97l2 2l-2 2l-2 -2zM513.36 302.43l2 2l-2 2l-2 -2zM517.45 302.9l2 2l-2 2l-2 -2zM521.54 303.4l2 2l-2 2l-2 -2zM525.63 303.93l2 2l-2 2l-2 -2zM529.72 304.51l2 2l-2 2l-2 -2zM533.81 305.14l2 2l-2 2l-2 -2zM537.9 305.81l2 2l-2 2l-2 -2zM541.99 306.54l2 2l-2 2l-2 -2zM546.08 307.34l2 2l-2 2l-2 -2zM550.17 308.23l2 2l-2 2l-2 -2zM554.26 309.23l2 2l-2 2l-2 -2zM558.35 310.36l2 2l-2 2l-2 -2zM562.44 311.62l2 2l-2 2l-2 -2zM566.53 313.03l2 2l-2 2l-2 -2zM571.03 317l2 2l-2 2l-2 -2zM575.12 321.5l2 2l-2 2l-2 -2zM579.22 319.8l2 2l-2 2l-2 -2z"/>
<path fill="#2ca02c" d="M333.4 379.15l2 2l-2 2l-2 -2zM337.49 377.07l2 2l-2 2l-2 -2zM341.58 374.98l2 2l-2 2l-2 -2zM345.67 372.9l2 2l-2 2l-2 -2zM349.76 370.83l2 2l-2 2l-2 -2zM353.85 368.76l2 2l-2 2l-2 -2zM357.94 366.69l2 2l-2 2l-2 -2zM362.03 364.63l2 2l-2 2l-2 -2zM366.12 362.57l2 2l-2 2l-2 -2zM370.21 360.52l2 2l-2 2l-2 -2zM374.3 358.47l2 2l-2 2l-2 -2zM378.39 356.42l2 2l-2 2l-2 -2zM382.48 354.37l2 2l-2 2l-2 -2zM386.57 352.32l2 2l-2 2l-2 -2zM390.66 350.27l2 2l-2 2l-2 -2zM394.75 348.23l2 2l-2 2l-2 -2zM398.84 346.19l2 2l-2 2l-2 -2zM402.93 344.16l2 2l-2 2l-2 -2zM407.02 342.11l2 2l-2 2l-2 -2zM411.11 340.04l2 2l-2 2l-2 -2zM415.2 337.95l2 2l-2 2l-2 -2zM419.29 335.79l2 2l-2 2l-2 -2zM423.38 333.55l2 2l-2 2l-2 -2zM427.47 331.25l2 2l-2 2l-2 -2zM431.56 328.98l2 2l-2 2l-2 -2zM435.65 326.9l2 2l-2 2l-2 -2zM439.74 325.06l2 2l-2 2l-2 -2zM443.83 323.46l2 2l-2 2l-2 -2zM447.92 322.07l2 2l-2 2l-2 -2zM452.01 320.87l2 2l-2 2l-2 -2zM456.1 319.9l2 2l-2 2l-2 -2zM460.19 319.13l2 2l-2 2l-2 -2zM464.28 318.52l2 2l-2 2l-2 -2zM468.37 318.03l2 2l-2 2l-2 -2zM472.46 317.68l2 2l-2 2l-2 -2zM476.55 317.47l2 2l-2 2l-2 -2zM480.64 317.44l2 2l-2 2l-2 -2zM484.73 317.56l2 2l-2 2l-2 -2zM488.82 317.81l2 2l-2 2l-2 -2zM492.91 318.15l2 2l-2 2l-2 -2zM497 318.56l2 2l-2 2l-2 -2zM501.09 319.06l2 2l-2 2l-2 -2zM505.18 319.68l2 2l-2 2l-2 -2zM509.27 320.41l2 2l-2 2l-2 -2zM513.36 321.19l2 2l-2 2l-2 -2zM517.45 321.98l2 2l-2 2l-2 -2zM521.54 322.74l2 2l-2 2l-2 -2zM525.63 323.49l2 2l-2 2l-2 -2zM529.72 324.24l2 2l-2 2l-2 -2zM533.81 325.02l2 2l-2 2l-2 -2zM537.9 325.84l2 2l-2 2l-2 -2zM541.99 326.73l2 2l-2 2l-2 -2zM546.08 327.72l2 2l-2 2l-2 -2zM550.17 328.84l2 2l-2 2l-2 -2zM554.26 330.12l2 2l-2 2l-2 -2zM558.35 331.55l2 2l-2 2l-2 -2zM562.44 333.14l2 2l-2 2l-2 -2zM566.53 334.87l2 2l-2 2l-2 -2zM571.03 343.3l2 2l-2 2l-2 -2zM575.12 342.7l2 2l-2 2l-2 -2zM579.22 345.6l2 2l-2 2l-2 -2z"/>
<path fill="#d62728" d="M333.4 392.34l2 2l-2 2l-2 -2zM337.49 390.64l2 2l-2 2l-2 -2zM341.58 388.9l2 2l-2 2l-2 -2zM345.67 387.1l2 2l-2 2l-2 -2zM349.76 385.26l2 2l-2 2l-2 -2zM353.85 383.36l2 2l-2 2l-2 -2zM357.94 381.4l2 2l-2 2l-2 -2zM362.03 379.35l2 2l-2 2l-2 -2zM366.12 377.22l2 2l-2 2l-2 -2zM370.21 375l2 2l-2 2l-2 -2zM374.3 372.75l2 2l-2 2l-2 -2zM378.39 370.5l2 2l-2 2l-2 -2zM382.48 368.3l2 2l-2 2l-2 -2zM386.57 366.18l2 2l-2 2l-2 -2zM390.66 364.14l2 2l-2 2l-2 -2zM394.75 362.17l2 2l-2 2l-2 -2zM398.84 360.25l2 2l-2 2l-2 -2zM402.93 358.38l2 2l-2 2l-2 -2zM407.02 356.58l2 2l-2 2l-2 -2zM411.11 354.88l2 2l-2 2l-2 -2zM415.2 353.28l2 2l-2 2l-2 -2zM419.29 351.78l2 2l-2 2l-2 -2zM423.38 350.34l2 2l-2 2l-2 -2zM427.47 348.91l2 2l-2 2l-2 -2zM431.56 347.5l2 2l-2 2l-2 -2zM435.65 346.16l2 2l-2 2l-2 -2zM439.74 344.93l2 2l-2 2l-2 -2zM443.83 343.9l2 2l-2 2l-2 -2zM447.92 343.1l2 2l-2 2l-2 -2zM452.01 342.58l2 2l-2 2l-2 -2zM456.1 342.32l2 2l-2 2l-2 -2zM460.19 342.23l2 2l-2 2l-2 -2zM464.28 342.21l2 2l-2 2l-2 -2zM468.37 342.23l2 2l-2 2l-2 -2zM472.46 342.3l2 2l-2 2l-2 -2zM476.55 342.48l2 2l-2 2l-2 -2zM480.64 342.79l2 2l-2 2l-2 -2zM484.73 343.2l2 2l-2 2l-2 -2zM488.82 343.72l2 2l-2 2l-2 -2zM492.91 344.34l2 2l-2 2l-2 -2zM497 345.07l2 2l-2 2l-2 -2zM501.09 345.9l2 2l-2 2l-2 -2zM505.18 346.81l2 2l-2 2l-2 -2zM509.27 347.78l2 2l-2 2l-2 -2zM513.36 348.84l2 2l-2 2l-2 -2zM517.45 349.99l2 2l-2 2l-2 -2zM521.54 351.29l2 2l-2 2l-2 -2zM525.63 352.72l2 2l-2 2l-2 -2zM529.72 354.22l2 2l-2 2l-2 -2zM533.81 355.69l2 2l-2 2l-2 -2zM537.9 357.06l2 2l-2 2l-2 -2zM541.99 358.32l2 2l-2 2l-2 -2zM546.08 359.47l2 2l-2 2l-2 -2zM550.54 363l2 2l-2 2l-2 -2zM554.64 365.3l2 2l-2 2l-2 -2zM558.73 364.2l2 2l-2 2l-2 -2zM562.83 365.2l2 2l-2 2l-2 -2zM566.93 365.8l2 2l-2 2l-2 -2zM571.03 370.2l2 2l-2 2l-2 -2zM575.12 372l2 2l-2 2l-2 -2zM579.22 379l2 2l-2 2l-2 -2z"/>
<path fill="#9467bd" d="M333.4 404.46l2 2l-2 2l-2 -2zM337.49 402.31l2 2l-2 2l-2 -2zM341.58 400.17l2 2l-2 2l-2 -2zM345.67 398.06l2 2l-2 2l-2 -2zM349.76 395.96l2 2l-2 2l-2 -2zM353.85 393.88l2 2l-2 2l-2 -2zM357.94 391.82l2 2l-2 2l-2 -2zM362.03 389.77l2 2l-2 2l-2 -2zM366.12 387.74l2 2l-2 2l-2 -2zM370.21 385.73l2 2l-2 2l-2 -2zM374.3 383.73l2 2l-2 2l-2 -2zM378.39 381.75l2 2l-2 2l-2 -2zM382.48 379.79l2 2l-2 2l-2 -2zM386.57 377.81l2 2l-2 2l-2 -2zM390.66 375.76l2 2l-2 2l-2 -2zM394.75 373.64l2 2l-2 2l-2 -2zM398.84 371.55l2 2l-2 2l-2 -2zM402.93 369.66l2 2l-2 2l-2 -2zM407.02 368.15l2 2l-2 2l-2 -2zM411.11 367.05l2 2l-2 2l-2 -2zM415.2 366.24l2 2l-2 2l-2 -2zM419.29 365.56l2 2l-2 2l-2 -2zM423.38 364.9l2 2l-2 2l-2 -2zM427.47 364.24l2 2l-2 2l-2 -2zM431.56 363.66l2 2l-2 2l-2 -2zM435.65 363.22l2 2l-2 2l-2 -2zM439.74 362.92l2 2l-2 2l-2 -2zM443.83 362.79l2 2l-2 2l-2 -2zM447.92 362.86l2 2l-2 2l-2 -2zM452.01 363.14l2 2l-2 2l-2 -2zM456.1 363.6l2 2l-2 2l-2 -2zM460.19 364.17l2 2l-2 2l-2 -2zM464.28 364.84l2 2l-2 2l-2 -2zM468.37 365.59l2 2l-2 2l-2 -2zM472.46 366.42l2 2l-2 2l-2 -2zM476.55 367.29l2 2l-2 2l-2 -2zM480.64 368.18l2 2l-2 2l-2 -2zM484.73 369.08l2 2l-2 2l-2 -2zM488.82 369.98l2 2l-2 2l-2 -2zM492.91 370.91l2 2l-2 2l-2 -2zM497 371.86l2 2l-2 2l-2 -2zM501.09 372.84l2 2l-2 2l-2 -2zM505.18 373.85l2 2l-2 2l-2 -2zM509.27 374.87l2 2l-2 2l-2 -2zM513.36 375.89l2 2l-2 2l-2 -2zM517.45 376.91l2 2l-2 2l-2 -2zM521.54 377.93l2 2l-2 2l-2 -2zM525.63 378.92l2 2l-2 2l-2 -2zM529.72 379.85l2 2l-2 2l-2 -2zM533.81 380.68l2 2l-2 2l-2 -2zM537.9 381.37l2 2l-2 2l-2 -2zM541.99 381.95l2 2l-2 2l-2 -2zM546.08 382.49l2 2l-2 2l-2 -2zM550.17 383.06l2 2l-2 2l-2 -2zM554.26 383.67l2 2l-2 2l-2 -2zM558.35 384.36l2 2l-2 2l-2 -2zM562.44 385.16l2 2l-2 2l-2 -2zM566.53 386.13l2 2l-2 2l-2 -2zM570.62 387.34l2 2l-2 2l-2 -2zM574.71 388.79l2 2l-2 2l-2 -2zM578.8 390.44l2 2l-2 2l-2 -2z"/>
</g>
<path d="M345.14 431.1V432.9M352.36 431.1V432.9M357.48 431.1V432.9M361.46 431.1V432.9M364.7 431.1V432.9M367.45 431.1V432.9M369.83 431.1V432.9M371.92 431.1V432.9M386.14 431.1V432.9M393.36 431.1V432.9M398.48 431.1V432.9M402.46 431.1V432.9M405.7 431.1V432.9M408.45 431.1V432.9M410.83 431.1V432.9M412.92 431.1V432.9M427.14 431.1V432.9M434.36 431.1V432.9M439.48 431.1V432.9M443.46 431.1V432.9M446.7 431.1V432.9M449.45 431.1V432.9M451.83 431.1V432.9M453.92 431.1V432.9M468.14 431.1V432.9M475.36 431.1V432.9M480.48 431.1V432.9M484.46 431.1V432.9M487.7 431.1V432.9M490.45 431.1V432.9M492.83 431.1V432.9M494.92 431.1V432.9M509.14 431.1V432.9M516.36 431.1V432.9M521.48 431.1V432.9M525.46 431.1V432.9M528.7 431.1V432.9M531.45 431.1V432.9M533.83 431.1V432.9M535.92 431.1V432.9M550.14 431.1V432.9M557.36 431.1V432.9M562.48 431.1V432.9M566.46 431.1V432.9M569.7 431.1V432.9M572.45 431.1V432.9M574.83 431.1V432.9M576.92 431.1V432.9M331.8 430.86H333.6M331.8 424.8H333.6M331.8 420.1H333.6M331.8 416.26H333.6M331.8 413.01H333.6M331.8 410.2H333.6M331.8 407.72H333.6M331.8 390.9H333.6M331.8 382.36H333.6M331.8 376.3H333.6M331.8 371.6H333.6M331.8 367.76H333.6M331.8 364.51H333.6M331.8 361.7H333.6M331.8 359.22H333.6M331.8 342.4H333.6M331.8 333.86H333.6M331.8 327.8H333.6M331.8 323.1H333.6M331.8 319.26H333.6M331.8 316.01H333.6M331.8 313.2H333.6M331.8 310.72H333.6M331.8 293.9H333.6M331.8 285.36H333.6M331.8 279.3H333.6M331.8 274.6H333.6M331.8 270.76H333.6M331.8 267.51H333.6M331.8 264.7H333.6M331.8 262.22H333.6" stroke="#9a9a9a" stroke-width="0.5" fill="none"/>
<path d="M373.5 428.9V433.7M414.5 428.9V433.7M455.5 428.9V433.7M496.5 428.9V433.7M537.5 428.9V433.7M578.5 428.9V433.7M331 405.5H335.8M331 356.5H335.8M331 308.5H335.8M331 260.5H335.8" stroke="#6a6a6a" stroke-width="0.8" fill="none"/>
<rect x="333.4" y="245.6" width="245.4" height="185.7" fill="none" stroke="#adadad" stroke-width="1"/>
<text x="374.4" y="443.5" text-anchor="middle" font-size="9.1">10<tspan font-size="7" dy="-4.2" dx="0.4">0</tspan></text>
<text x="415.4" y="443.5" text-anchor="middle" font-size="9.1">10<tspan font-size="7" dy="-4.2" dx="0.4">1</tspan></text>
<text x="456.4" y="443.5" text-anchor="middle" font-size="9.1">10<tspan font-size="7" dy="-4.2" dx="0.4">2</tspan></text>
<text x="497.4" y="443.5" text-anchor="middle" font-size="9.1">10<tspan font-size="7" dy="-4.2" dx="0.4">3</tspan></text>
<text x="538.4" y="443.5" text-anchor="middle" font-size="9.1">10<tspan font-size="7" dy="-4.2" dx="0.4">4</tspan></text>
<text x="579.4" y="443.5" text-anchor="middle" font-size="9.1">10<tspan font-size="7" dy="-4.2" dx="0.4">5</tspan></text>
<text x="329.6" y="410.1" text-anchor="end" font-size="9.1">10<tspan font-size="7" dy="-4.2" dx="0.4">−2</tspan></text>
<text x="329.6" y="361.6" text-anchor="end" font-size="9.1">10<tspan font-size="7" dy="-4.2" dx="0.4">−1</tspan></text>
<text x="329.6" y="313.1" text-anchor="end" font-size="9.1">10<tspan font-size="7" dy="-4.2" dx="0.4">0</tspan></text>
<text x="329.6" y="264.6" text-anchor="end" font-size="9.1">10<tspan font-size="7" dy="-4.2" dx="0.4">1</tspan></text>
<text x="456.1" y="454.7" text-anchor="middle" font-size="9.6">frequency [Hz]</text>
<text transform="translate(303.2 339.65) rotate(-90)" text-anchor="middle" font-size="9.6">Quadrature conductivity [S/m]</text>
<text x="344.5" y="261.8" class="tag" font-size="13.6"><tspan font-size="12.6" dy="-0.4">(</tspan><tspan font-weight="bold" dy="0.4">d</tspan><tspan font-size="12.6" dy="-0.4">)</tspan></text>
<rect x="591.7" y="12.9" width="91.2" height="101.9" rx="1.8" fill="#fff" stroke="#dadada" stroke-width="0.8"/>
<path d="M594.1 18.4H606.9" stroke="#1f77b4" stroke-width="1.0" stroke-dasharray="3.5 1.5" fill="none"/>
<text x="611.8" y="20.7" font-size="6.3" class="lg">12.2 S/m predicted</text>
<path d="M594.1 28.52H606.9" stroke="#ff7f0e" stroke-width="1.0" stroke-dasharray="3.5 1.5" fill="none"/>
<text x="611.8" y="30.82" font-size="6.3" class="lg">3.64 S/m predicted</text>
<path d="M594.1 38.64H606.9" stroke="#2ca02c" stroke-width="1.0" stroke-dasharray="3.5 1.5" fill="none"/>
<text x="611.8" y="40.94" font-size="6.3" class="lg">0.948 S/m predicted</text>
<path d="M594.1 48.76H606.9" stroke="#d62728" stroke-width="1.0" stroke-dasharray="3.5 1.5" fill="none"/>
<text x="611.8" y="51.06" font-size="6.3" class="lg">0.342 S/m predicted</text>
<path d="M594.1 58.88H606.9" stroke="#9467bd" stroke-width="1.0" stroke-dasharray="3.5 1.5" fill="none"/>
<text x="611.8" y="61.18" font-size="6.3" class="lg">0.1021 S/m predicted</text>
<path d="M600 67l2 2l-2 2l-2 -2z" fill="#1f77b4"/>
<text x="611.8" y="71.3" font-size="6.3" class="lg">12.2 S/m</text>
<path d="M600 77.12l2 2l-2 2l-2 -2z" fill="#ff7f0e"/>
<text x="611.8" y="81.42" font-size="6.3" class="lg">3.64 S/m</text>
<path d="M600 87.24l2 2l-2 2l-2 -2z" fill="#2ca02c"/>
<text x="611.8" y="91.54" font-size="6.3" class="lg">0.948 S/m</text>
<path d="M600 97.36l2 2l-2 2l-2 -2z" fill="#d62728"/>
<text x="611.8" y="101.66" font-size="6.3" class="lg">0.342 S/m</text>
<path d="M600 107.48l2 2l-2 2l-2 -2z" fill="#9467bd"/>
<text x="611.8" y="111.78" font-size="6.3" class="lg">0.1021 S/m</text>
<rect x="591.7" y="246" width="91.2" height="101.9" rx="1.8" fill="#fff" stroke="#dadada" stroke-width="0.8"/>
<path d="M594.1 251.5H606.9" stroke="#1f77b4" stroke-width="1.0" stroke-dasharray="3.5 1.5" fill="none"/>
<text x="611.8" y="253.8" font-size="6.3" class="lg">12.4 S/m predicted</text>
<path d="M594.1 261.62H606.9" stroke="#ff7f0e" stroke-width="1.0" stroke-dasharray="3.5 1.5" fill="none"/>
<text x="611.8" y="263.92" font-size="6.3" class="lg">2.91 S/m predicted</text>
<path d="M594.1 271.74H606.9" stroke="#2ca02c" stroke-width="1.0" stroke-dasharray="3.5 1.5" fill="none"/>
<text x="611.8" y="274.04" font-size="6.3" class="lg">0.879 S/m predicted</text>
<path d="M594.1 281.86H606.9" stroke="#d62728" stroke-width="1.0" stroke-dasharray="3.5 1.5" fill="none"/>
<text x="611.8" y="284.16" font-size="6.3" class="lg">0.277 S/m predicted</text>
<path d="M594.1 291.98H606.9" stroke="#9467bd" stroke-width="1.0" stroke-dasharray="3.5 1.5" fill="none"/>
<text x="611.8" y="294.28" font-size="6.3" class="lg">0.0914 S/m predicted</text>
<path d="M600 300.1l2 2l-2 2l-2 -2z" fill="#1f77b4"/>
<text x="611.8" y="304.4" font-size="6.3" class="lg">12.4 S/m</text>
<path d="M600 310.22l2 2l-2 2l-2 -2z" fill="#ff7f0e"/>
<text x="611.8" y="314.52" font-size="6.3" class="lg">2.91 S/m</text>
<path d="M600 320.34l2 2l-2 2l-2 -2z" fill="#2ca02c"/>
<text x="611.8" y="324.64" font-size="6.3" class="lg">0.879 S/m</text>
<path d="M600 330.46l2 2l-2 2l-2 -2z" fill="#d62728"/>
<text x="611.8" y="334.76" font-size="6.3" class="lg">0.277 S/m</text>
<path d="M600 340.58l2 2l-2 2l-2 -2z" fill="#9467bd"/>
<text x="611.8" y="344.88" font-size="6.3" class="lg">0.0914 S/m</text>
</svg></body></html>
